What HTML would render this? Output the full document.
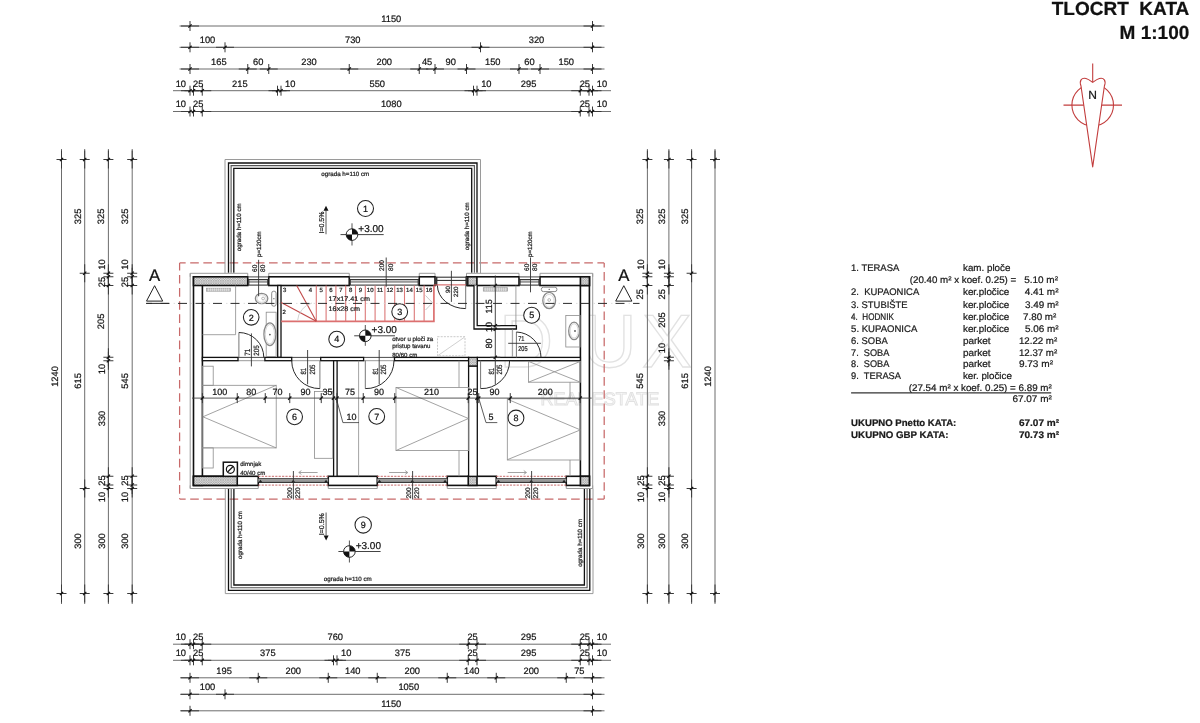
<!DOCTYPE html>
<html><head><meta charset="utf-8"><title>Tlocrt kata</title>
<style>
html,body{margin:0;padding:0;background:#fff;}
body{width:1200px;height:723px;overflow:hidden;}
svg{display:block;font-family:"Liberation Sans",sans-serif;will-change:transform;}
</style></head><body>
<svg width="1200" height="723" viewBox="0 0 1200 723" text-rendering="geometricPrecision">
<defs>
<pattern id="hatch" width="2.4" height="2.4" patternUnits="userSpaceOnUse">
<rect width="2.4" height="2.4" fill="#dedede"/>
<path d="M0,0 L2.4,2.4 M2.4,0 L0,2.4" stroke="#9a9a9a" stroke-width="0.55"/>
</pattern>
</defs>
<rect width="1200" height="723" fill="#fff"/>
<text x="499.0" y="367.3" font-size="75" fill="none" stroke="#e2e2e2" stroke-width="1.3">D</text>
<text x="582.5" y="367.3" font-size="75" fill="none" stroke="#e2e2e2" stroke-width="1.3">U</text>
<text x="642.0" y="367.3" font-size="75" fill="none" stroke="#e2e2e2" stroke-width="1.3">X</text>
<text x="540.5" y="404.8" font-size="18" fill="none" stroke="#e2e2e2" stroke-width="1">REAL ESTATE</text>
<line x1="179.5" y1="26" x2="604.5" y2="26" stroke="#6d6d6d" stroke-width="1" />
<line x1="181" y1="26" x2="199" y2="26" stroke="#3a3a3a" stroke-width="1" />
<line x1="583.5" y1="26" x2="601.5" y2="26" stroke="#3a3a3a" stroke-width="1" />
<line x1="190" y1="21" x2="190" y2="31" stroke="#3a3a3a" stroke-width="1.0" />
<line x1="188.4" y1="27.6" x2="191.6" y2="24.4" stroke="#111" stroke-width="1.3" />
<line x1="592.5" y1="21" x2="592.5" y2="31" stroke="#3a3a3a" stroke-width="1.0" />
<line x1="590.9" y1="27.6" x2="594.1" y2="24.4" stroke="#111" stroke-width="1.3" />
<text x="391.25" y="21.9" font-size="9.3" text-anchor="middle" fill="#151515" stroke="#151515" stroke-width="0.22" >1150</text>
<line x1="179.5" y1="47.3" x2="604.5" y2="47.3" stroke="#6d6d6d" stroke-width="1" />
<line x1="181" y1="47.3" x2="199" y2="47.3" stroke="#3a3a3a" stroke-width="1" />
<line x1="216" y1="47.3" x2="234" y2="47.3" stroke="#3a3a3a" stroke-width="1" />
<line x1="471.5" y1="47.3" x2="489.5" y2="47.3" stroke="#3a3a3a" stroke-width="1" />
<line x1="583.5" y1="47.3" x2="601.5" y2="47.3" stroke="#3a3a3a" stroke-width="1" />
<line x1="190" y1="42.3" x2="190" y2="52.3" stroke="#3a3a3a" stroke-width="1.0" />
<line x1="188.4" y1="48.9" x2="191.6" y2="45.7" stroke="#111" stroke-width="1.3" />
<line x1="225" y1="42.3" x2="225" y2="52.3" stroke="#3a3a3a" stroke-width="1.0" />
<line x1="223.4" y1="48.9" x2="226.6" y2="45.7" stroke="#111" stroke-width="1.3" />
<line x1="480.5" y1="42.3" x2="480.5" y2="52.3" stroke="#3a3a3a" stroke-width="1.0" />
<line x1="478.9" y1="48.9" x2="482.1" y2="45.7" stroke="#111" stroke-width="1.3" />
<line x1="592.5" y1="42.3" x2="592.5" y2="52.3" stroke="#3a3a3a" stroke-width="1.0" />
<line x1="590.9" y1="48.9" x2="594.1" y2="45.7" stroke="#111" stroke-width="1.3" />
<text x="207.5" y="43.2" font-size="9.3" text-anchor="middle" fill="#151515" stroke="#151515" stroke-width="0.22" >100</text>
<text x="352.75" y="43.2" font-size="9.3" text-anchor="middle" fill="#151515" stroke="#151515" stroke-width="0.22" >730</text>
<text x="536.5" y="43.2" font-size="9.3" text-anchor="middle" fill="#151515" stroke="#151515" stroke-width="0.22" >320</text>
<line x1="179.5" y1="69" x2="604.5" y2="69" stroke="#6d6d6d" stroke-width="1" />
<line x1="181" y1="69" x2="199" y2="69" stroke="#3a3a3a" stroke-width="1" />
<line x1="238.75" y1="69" x2="256.75" y2="69" stroke="#3a3a3a" stroke-width="1" />
<line x1="259.75" y1="69" x2="277.75" y2="69" stroke="#3a3a3a" stroke-width="1" />
<line x1="340.25" y1="69" x2="358.25" y2="69" stroke="#3a3a3a" stroke-width="1" />
<line x1="410.25" y1="69" x2="428.25" y2="69" stroke="#3a3a3a" stroke-width="1" />
<line x1="426" y1="69" x2="444" y2="69" stroke="#3a3a3a" stroke-width="1" />
<line x1="457.5" y1="69" x2="475.5" y2="69" stroke="#3a3a3a" stroke-width="1" />
<line x1="510" y1="69" x2="528" y2="69" stroke="#3a3a3a" stroke-width="1" />
<line x1="531" y1="69" x2="549" y2="69" stroke="#3a3a3a" stroke-width="1" />
<line x1="583.5" y1="69" x2="601.5" y2="69" stroke="#3a3a3a" stroke-width="1" />
<line x1="190" y1="64" x2="190" y2="74" stroke="#3a3a3a" stroke-width="1.0" />
<line x1="188.4" y1="70.6" x2="191.6" y2="67.4" stroke="#111" stroke-width="1.3" />
<line x1="247.75" y1="64" x2="247.75" y2="74" stroke="#3a3a3a" stroke-width="1.0" />
<line x1="246.15" y1="70.6" x2="249.35" y2="67.4" stroke="#111" stroke-width="1.3" />
<line x1="268.75" y1="64" x2="268.75" y2="74" stroke="#3a3a3a" stroke-width="1.0" />
<line x1="267.15" y1="70.6" x2="270.35" y2="67.4" stroke="#111" stroke-width="1.3" />
<line x1="349.25" y1="64" x2="349.25" y2="74" stroke="#3a3a3a" stroke-width="1.0" />
<line x1="347.65" y1="70.6" x2="350.85" y2="67.4" stroke="#111" stroke-width="1.3" />
<line x1="419.25" y1="64" x2="419.25" y2="74" stroke="#3a3a3a" stroke-width="1.0" />
<line x1="417.65" y1="70.6" x2="420.85" y2="67.4" stroke="#111" stroke-width="1.3" />
<line x1="435" y1="64" x2="435" y2="74" stroke="#3a3a3a" stroke-width="1.0" />
<line x1="433.4" y1="70.6" x2="436.6" y2="67.4" stroke="#111" stroke-width="1.3" />
<line x1="466.5" y1="64" x2="466.5" y2="74" stroke="#3a3a3a" stroke-width="1.0" />
<line x1="464.9" y1="70.6" x2="468.1" y2="67.4" stroke="#111" stroke-width="1.3" />
<line x1="519" y1="64" x2="519" y2="74" stroke="#3a3a3a" stroke-width="1.0" />
<line x1="517.4" y1="70.6" x2="520.6" y2="67.4" stroke="#111" stroke-width="1.3" />
<line x1="540" y1="64" x2="540" y2="74" stroke="#3a3a3a" stroke-width="1.0" />
<line x1="538.4" y1="70.6" x2="541.6" y2="67.4" stroke="#111" stroke-width="1.3" />
<line x1="592.5" y1="64" x2="592.5" y2="74" stroke="#3a3a3a" stroke-width="1.0" />
<line x1="590.9" y1="70.6" x2="594.1" y2="67.4" stroke="#111" stroke-width="1.3" />
<text x="218.88" y="64.9" font-size="9.3" text-anchor="middle" fill="#151515" stroke="#151515" stroke-width="0.22" >165</text>
<text x="258.25" y="64.9" font-size="9.3" text-anchor="middle" fill="#151515" stroke="#151515" stroke-width="0.22" >60</text>
<text x="309" y="64.9" font-size="9.3" text-anchor="middle" fill="#151515" stroke="#151515" stroke-width="0.22" >230</text>
<text x="384.25" y="64.9" font-size="9.3" text-anchor="middle" fill="#151515" stroke="#151515" stroke-width="0.22" >200</text>
<text x="427.12" y="64.9" font-size="9.3" text-anchor="middle" fill="#151515" stroke="#151515" stroke-width="0.22" >45</text>
<text x="450.75" y="64.9" font-size="9.3" text-anchor="middle" fill="#151515" stroke="#151515" stroke-width="0.22" >90</text>
<text x="492.75" y="64.9" font-size="9.3" text-anchor="middle" fill="#151515" stroke="#151515" stroke-width="0.22" >150</text>
<text x="529.5" y="64.9" font-size="9.3" text-anchor="middle" fill="#151515" stroke="#151515" stroke-width="0.22" >60</text>
<text x="566.25" y="64.9" font-size="9.3" text-anchor="middle" fill="#151515" stroke="#151515" stroke-width="0.22" >150</text>
<line x1="173" y1="90.7" x2="611" y2="90.7" stroke="#6d6d6d" stroke-width="1" />
<line x1="181" y1="90.7" x2="199" y2="90.7" stroke="#3a3a3a" stroke-width="1" />
<line x1="184.5" y1="90.7" x2="202.5" y2="90.7" stroke="#3a3a3a" stroke-width="1" />
<line x1="193.25" y1="90.7" x2="211.25" y2="90.7" stroke="#3a3a3a" stroke-width="1" />
<line x1="268.5" y1="90.7" x2="286.5" y2="90.7" stroke="#3a3a3a" stroke-width="1" />
<line x1="272" y1="90.7" x2="290" y2="90.7" stroke="#3a3a3a" stroke-width="1" />
<line x1="464.5" y1="90.7" x2="482.5" y2="90.7" stroke="#3a3a3a" stroke-width="1" />
<line x1="468" y1="90.7" x2="486" y2="90.7" stroke="#3a3a3a" stroke-width="1" />
<line x1="571.25" y1="90.7" x2="589.25" y2="90.7" stroke="#3a3a3a" stroke-width="1" />
<line x1="580" y1="90.7" x2="598" y2="90.7" stroke="#3a3a3a" stroke-width="1" />
<line x1="583.5" y1="90.7" x2="601.5" y2="90.7" stroke="#3a3a3a" stroke-width="1" />
<line x1="190" y1="85.7" x2="190" y2="95.7" stroke="#3a3a3a" stroke-width="1.0" />
<line x1="188.4" y1="92.3" x2="191.6" y2="89.1" stroke="#111" stroke-width="1.3" />
<line x1="193.5" y1="85.7" x2="193.5" y2="95.7" stroke="#3a3a3a" stroke-width="1.0" />
<line x1="191.9" y1="92.3" x2="195.1" y2="89.1" stroke="#111" stroke-width="1.3" />
<line x1="202.25" y1="85.7" x2="202.25" y2="95.7" stroke="#3a3a3a" stroke-width="1.0" />
<line x1="200.65" y1="92.3" x2="203.85" y2="89.1" stroke="#111" stroke-width="1.3" />
<line x1="277.5" y1="85.7" x2="277.5" y2="95.7" stroke="#3a3a3a" stroke-width="1.0" />
<line x1="275.9" y1="92.3" x2="279.1" y2="89.1" stroke="#111" stroke-width="1.3" />
<line x1="281" y1="85.7" x2="281" y2="95.7" stroke="#3a3a3a" stroke-width="1.0" />
<line x1="279.4" y1="92.3" x2="282.6" y2="89.1" stroke="#111" stroke-width="1.3" />
<line x1="473.5" y1="85.7" x2="473.5" y2="95.7" stroke="#3a3a3a" stroke-width="1.0" />
<line x1="471.9" y1="92.3" x2="475.1" y2="89.1" stroke="#111" stroke-width="1.3" />
<line x1="477" y1="85.7" x2="477" y2="95.7" stroke="#3a3a3a" stroke-width="1.0" />
<line x1="475.4" y1="92.3" x2="478.6" y2="89.1" stroke="#111" stroke-width="1.3" />
<line x1="580.25" y1="85.7" x2="580.25" y2="95.7" stroke="#3a3a3a" stroke-width="1.0" />
<line x1="578.65" y1="92.3" x2="581.85" y2="89.1" stroke="#111" stroke-width="1.3" />
<line x1="589" y1="85.7" x2="589" y2="95.7" stroke="#3a3a3a" stroke-width="1.0" />
<line x1="587.4" y1="92.3" x2="590.6" y2="89.1" stroke="#111" stroke-width="1.3" />
<line x1="592.5" y1="85.7" x2="592.5" y2="95.7" stroke="#3a3a3a" stroke-width="1.0" />
<line x1="590.9" y1="92.3" x2="594.1" y2="89.1" stroke="#111" stroke-width="1.3" />
<text x="180.8" y="86.6" font-size="9.3" text-anchor="middle" fill="#151515" stroke="#151515" stroke-width="0.22" >10</text>
<text x="198.2" y="86.6" font-size="9.3" text-anchor="middle" fill="#151515" stroke="#151515" stroke-width="0.22" >25</text>
<text x="239.88" y="86.6" font-size="9.3" text-anchor="middle" fill="#151515" stroke="#151515" stroke-width="0.22" >215</text>
<text x="290.2" y="86.6" font-size="9.3" text-anchor="middle" fill="#151515" stroke="#151515" stroke-width="0.22" >10</text>
<text x="377.25" y="86.6" font-size="9.3" text-anchor="middle" fill="#151515" stroke="#151515" stroke-width="0.22" >550</text>
<text x="486.3" y="86.6" font-size="9.3" text-anchor="middle" fill="#151515" stroke="#151515" stroke-width="0.22" >10</text>
<text x="528.62" y="86.6" font-size="9.3" text-anchor="middle" fill="#151515" stroke="#151515" stroke-width="0.22" >295</text>
<text x="584.8" y="86.6" font-size="9.3" text-anchor="middle" fill="#151515" stroke="#151515" stroke-width="0.22" >25</text>
<text x="602" y="86.6" font-size="9.3" text-anchor="middle" fill="#151515" stroke="#151515" stroke-width="0.22" >10</text>
<line x1="173" y1="111.5" x2="611" y2="111.5" stroke="#6d6d6d" stroke-width="1" />
<line x1="181" y1="111.5" x2="199" y2="111.5" stroke="#3a3a3a" stroke-width="1" />
<line x1="184.5" y1="111.5" x2="202.5" y2="111.5" stroke="#3a3a3a" stroke-width="1" />
<line x1="193.25" y1="111.5" x2="211.25" y2="111.5" stroke="#3a3a3a" stroke-width="1" />
<line x1="571.25" y1="111.5" x2="589.25" y2="111.5" stroke="#3a3a3a" stroke-width="1" />
<line x1="580" y1="111.5" x2="598" y2="111.5" stroke="#3a3a3a" stroke-width="1" />
<line x1="583.5" y1="111.5" x2="601.5" y2="111.5" stroke="#3a3a3a" stroke-width="1" />
<line x1="190" y1="106.5" x2="190" y2="116.5" stroke="#3a3a3a" stroke-width="1.0" />
<line x1="188.4" y1="113.1" x2="191.6" y2="109.9" stroke="#111" stroke-width="1.3" />
<line x1="193.5" y1="106.5" x2="193.5" y2="116.5" stroke="#3a3a3a" stroke-width="1.0" />
<line x1="191.9" y1="113.1" x2="195.1" y2="109.9" stroke="#111" stroke-width="1.3" />
<line x1="202.25" y1="106.5" x2="202.25" y2="116.5" stroke="#3a3a3a" stroke-width="1.0" />
<line x1="200.65" y1="113.1" x2="203.85" y2="109.9" stroke="#111" stroke-width="1.3" />
<line x1="580.25" y1="106.5" x2="580.25" y2="116.5" stroke="#3a3a3a" stroke-width="1.0" />
<line x1="578.65" y1="113.1" x2="581.85" y2="109.9" stroke="#111" stroke-width="1.3" />
<line x1="589" y1="106.5" x2="589" y2="116.5" stroke="#3a3a3a" stroke-width="1.0" />
<line x1="587.4" y1="113.1" x2="590.6" y2="109.9" stroke="#111" stroke-width="1.3" />
<line x1="592.5" y1="106.5" x2="592.5" y2="116.5" stroke="#3a3a3a" stroke-width="1.0" />
<line x1="590.9" y1="113.1" x2="594.1" y2="109.9" stroke="#111" stroke-width="1.3" />
<text x="180.8" y="107.4" font-size="9.3" text-anchor="middle" fill="#151515" stroke="#151515" stroke-width="0.22" >10</text>
<text x="198.2" y="107.4" font-size="9.3" text-anchor="middle" fill="#151515" stroke="#151515" stroke-width="0.22" >25</text>
<text x="391.25" y="107.4" font-size="9.3" text-anchor="middle" fill="#151515" stroke="#151515" stroke-width="0.22" >1080</text>
<text x="584.8" y="107.4" font-size="9.3" text-anchor="middle" fill="#151515" stroke="#151515" stroke-width="0.22" >25</text>
<text x="602" y="107.4" font-size="9.3" text-anchor="middle" fill="#151515" stroke="#151515" stroke-width="0.22" >10</text>
<line x1="173" y1="644.2" x2="611" y2="644.2" stroke="#6d6d6d" stroke-width="1" />
<line x1="181" y1="644.2" x2="199" y2="644.2" stroke="#3a3a3a" stroke-width="1" />
<line x1="184.5" y1="644.2" x2="202.5" y2="644.2" stroke="#3a3a3a" stroke-width="1" />
<line x1="193.25" y1="644.2" x2="211.25" y2="644.2" stroke="#3a3a3a" stroke-width="1" />
<line x1="459.25" y1="644.2" x2="477.25" y2="644.2" stroke="#3a3a3a" stroke-width="1" />
<line x1="468" y1="644.2" x2="486" y2="644.2" stroke="#3a3a3a" stroke-width="1" />
<line x1="571.25" y1="644.2" x2="589.25" y2="644.2" stroke="#3a3a3a" stroke-width="1" />
<line x1="580" y1="644.2" x2="598" y2="644.2" stroke="#3a3a3a" stroke-width="1" />
<line x1="583.5" y1="644.2" x2="601.5" y2="644.2" stroke="#3a3a3a" stroke-width="1" />
<line x1="190" y1="639.2" x2="190" y2="649.2" stroke="#3a3a3a" stroke-width="1.0" />
<line x1="188.4" y1="645.8" x2="191.6" y2="642.6" stroke="#111" stroke-width="1.3" />
<line x1="193.5" y1="639.2" x2="193.5" y2="649.2" stroke="#3a3a3a" stroke-width="1.0" />
<line x1="191.9" y1="645.8" x2="195.1" y2="642.6" stroke="#111" stroke-width="1.3" />
<line x1="202.25" y1="639.2" x2="202.25" y2="649.2" stroke="#3a3a3a" stroke-width="1.0" />
<line x1="200.65" y1="645.8" x2="203.85" y2="642.6" stroke="#111" stroke-width="1.3" />
<line x1="468.25" y1="639.2" x2="468.25" y2="649.2" stroke="#3a3a3a" stroke-width="1.0" />
<line x1="466.65" y1="645.8" x2="469.85" y2="642.6" stroke="#111" stroke-width="1.3" />
<line x1="477" y1="639.2" x2="477" y2="649.2" stroke="#3a3a3a" stroke-width="1.0" />
<line x1="475.4" y1="645.8" x2="478.6" y2="642.6" stroke="#111" stroke-width="1.3" />
<line x1="580.25" y1="639.2" x2="580.25" y2="649.2" stroke="#3a3a3a" stroke-width="1.0" />
<line x1="578.65" y1="645.8" x2="581.85" y2="642.6" stroke="#111" stroke-width="1.3" />
<line x1="589" y1="639.2" x2="589" y2="649.2" stroke="#3a3a3a" stroke-width="1.0" />
<line x1="587.4" y1="645.8" x2="590.6" y2="642.6" stroke="#111" stroke-width="1.3" />
<line x1="592.5" y1="639.2" x2="592.5" y2="649.2" stroke="#3a3a3a" stroke-width="1.0" />
<line x1="590.9" y1="645.8" x2="594.1" y2="642.6" stroke="#111" stroke-width="1.3" />
<text x="180.8" y="640.1" font-size="9.3" text-anchor="middle" fill="#151515" stroke="#151515" stroke-width="0.22" >10</text>
<text x="198.2" y="640.1" font-size="9.3" text-anchor="middle" fill="#151515" stroke="#151515" stroke-width="0.22" >25</text>
<text x="335.25" y="640.1" font-size="9.3" text-anchor="middle" fill="#151515" stroke="#151515" stroke-width="0.22" >760</text>
<text x="472.62" y="640.1" font-size="9.3" text-anchor="middle" fill="#151515" stroke="#151515" stroke-width="0.22" >25</text>
<text x="528.62" y="640.1" font-size="9.3" text-anchor="middle" fill="#151515" stroke="#151515" stroke-width="0.22" >295</text>
<text x="584.8" y="640.1" font-size="9.3" text-anchor="middle" fill="#151515" stroke="#151515" stroke-width="0.22" >25</text>
<text x="602" y="640.1" font-size="9.3" text-anchor="middle" fill="#151515" stroke="#151515" stroke-width="0.22" >10</text>
<line x1="173" y1="660.3" x2="611" y2="660.3" stroke="#6d6d6d" stroke-width="1" />
<line x1="181" y1="660.3" x2="199" y2="660.3" stroke="#3a3a3a" stroke-width="1" />
<line x1="184.5" y1="660.3" x2="202.5" y2="660.3" stroke="#3a3a3a" stroke-width="1" />
<line x1="193.25" y1="660.3" x2="211.25" y2="660.3" stroke="#3a3a3a" stroke-width="1" />
<line x1="324.5" y1="660.3" x2="342.5" y2="660.3" stroke="#3a3a3a" stroke-width="1" />
<line x1="328" y1="660.3" x2="346" y2="660.3" stroke="#3a3a3a" stroke-width="1" />
<line x1="459.25" y1="660.3" x2="477.25" y2="660.3" stroke="#3a3a3a" stroke-width="1" />
<line x1="468" y1="660.3" x2="486" y2="660.3" stroke="#3a3a3a" stroke-width="1" />
<line x1="571.25" y1="660.3" x2="589.25" y2="660.3" stroke="#3a3a3a" stroke-width="1" />
<line x1="580" y1="660.3" x2="598" y2="660.3" stroke="#3a3a3a" stroke-width="1" />
<line x1="583.5" y1="660.3" x2="601.5" y2="660.3" stroke="#3a3a3a" stroke-width="1" />
<line x1="190" y1="655.3" x2="190" y2="665.3" stroke="#3a3a3a" stroke-width="1.0" />
<line x1="188.4" y1="661.9" x2="191.6" y2="658.7" stroke="#111" stroke-width="1.3" />
<line x1="193.5" y1="655.3" x2="193.5" y2="665.3" stroke="#3a3a3a" stroke-width="1.0" />
<line x1="191.9" y1="661.9" x2="195.1" y2="658.7" stroke="#111" stroke-width="1.3" />
<line x1="202.25" y1="655.3" x2="202.25" y2="665.3" stroke="#3a3a3a" stroke-width="1.0" />
<line x1="200.65" y1="661.9" x2="203.85" y2="658.7" stroke="#111" stroke-width="1.3" />
<line x1="333.5" y1="655.3" x2="333.5" y2="665.3" stroke="#3a3a3a" stroke-width="1.0" />
<line x1="331.9" y1="661.9" x2="335.1" y2="658.7" stroke="#111" stroke-width="1.3" />
<line x1="337" y1="655.3" x2="337" y2="665.3" stroke="#3a3a3a" stroke-width="1.0" />
<line x1="335.4" y1="661.9" x2="338.6" y2="658.7" stroke="#111" stroke-width="1.3" />
<line x1="468.25" y1="655.3" x2="468.25" y2="665.3" stroke="#3a3a3a" stroke-width="1.0" />
<line x1="466.65" y1="661.9" x2="469.85" y2="658.7" stroke="#111" stroke-width="1.3" />
<line x1="477" y1="655.3" x2="477" y2="665.3" stroke="#3a3a3a" stroke-width="1.0" />
<line x1="475.4" y1="661.9" x2="478.6" y2="658.7" stroke="#111" stroke-width="1.3" />
<line x1="580.25" y1="655.3" x2="580.25" y2="665.3" stroke="#3a3a3a" stroke-width="1.0" />
<line x1="578.65" y1="661.9" x2="581.85" y2="658.7" stroke="#111" stroke-width="1.3" />
<line x1="589" y1="655.3" x2="589" y2="665.3" stroke="#3a3a3a" stroke-width="1.0" />
<line x1="587.4" y1="661.9" x2="590.6" y2="658.7" stroke="#111" stroke-width="1.3" />
<line x1="592.5" y1="655.3" x2="592.5" y2="665.3" stroke="#3a3a3a" stroke-width="1.0" />
<line x1="590.9" y1="661.9" x2="594.1" y2="658.7" stroke="#111" stroke-width="1.3" />
<text x="180.8" y="656.2" font-size="9.3" text-anchor="middle" fill="#151515" stroke="#151515" stroke-width="0.22" >10</text>
<text x="198.2" y="656.2" font-size="9.3" text-anchor="middle" fill="#151515" stroke="#151515" stroke-width="0.22" >25</text>
<text x="267.88" y="656.2" font-size="9.3" text-anchor="middle" fill="#151515" stroke="#151515" stroke-width="0.22" >375</text>
<text x="346.2" y="656.2" font-size="9.3" text-anchor="middle" fill="#151515" stroke="#151515" stroke-width="0.22" >10</text>
<text x="402.62" y="656.2" font-size="9.3" text-anchor="middle" fill="#151515" stroke="#151515" stroke-width="0.22" >375</text>
<text x="472.62" y="656.2" font-size="9.3" text-anchor="middle" fill="#151515" stroke="#151515" stroke-width="0.22" >25</text>
<text x="528.62" y="656.2" font-size="9.3" text-anchor="middle" fill="#151515" stroke="#151515" stroke-width="0.22" >295</text>
<text x="584.8" y="656.2" font-size="9.3" text-anchor="middle" fill="#151515" stroke="#151515" stroke-width="0.22" >25</text>
<text x="602" y="656.2" font-size="9.3" text-anchor="middle" fill="#151515" stroke="#151515" stroke-width="0.22" >10</text>
<line x1="180" y1="677.8" x2="604.5" y2="677.8" stroke="#6d6d6d" stroke-width="1" />
<line x1="181" y1="677.8" x2="199" y2="677.8" stroke="#3a3a3a" stroke-width="1" />
<line x1="249.25" y1="677.8" x2="267.25" y2="677.8" stroke="#3a3a3a" stroke-width="1" />
<line x1="319.25" y1="677.8" x2="337.25" y2="677.8" stroke="#3a3a3a" stroke-width="1" />
<line x1="368.25" y1="677.8" x2="386.25" y2="677.8" stroke="#3a3a3a" stroke-width="1" />
<line x1="438.25" y1="677.8" x2="456.25" y2="677.8" stroke="#3a3a3a" stroke-width="1" />
<line x1="487.25" y1="677.8" x2="505.25" y2="677.8" stroke="#3a3a3a" stroke-width="1" />
<line x1="557.25" y1="677.8" x2="575.25" y2="677.8" stroke="#3a3a3a" stroke-width="1" />
<line x1="583.5" y1="677.8" x2="601.5" y2="677.8" stroke="#3a3a3a" stroke-width="1" />
<line x1="190" y1="672.8" x2="190" y2="682.8" stroke="#3a3a3a" stroke-width="1.0" />
<line x1="188.4" y1="679.4" x2="191.6" y2="676.2" stroke="#111" stroke-width="1.3" />
<line x1="258.25" y1="672.8" x2="258.25" y2="682.8" stroke="#3a3a3a" stroke-width="1.0" />
<line x1="256.65" y1="679.4" x2="259.85" y2="676.2" stroke="#111" stroke-width="1.3" />
<line x1="328.25" y1="672.8" x2="328.25" y2="682.8" stroke="#3a3a3a" stroke-width="1.0" />
<line x1="326.65" y1="679.4" x2="329.85" y2="676.2" stroke="#111" stroke-width="1.3" />
<line x1="377.25" y1="672.8" x2="377.25" y2="682.8" stroke="#3a3a3a" stroke-width="1.0" />
<line x1="375.65" y1="679.4" x2="378.85" y2="676.2" stroke="#111" stroke-width="1.3" />
<line x1="447.25" y1="672.8" x2="447.25" y2="682.8" stroke="#3a3a3a" stroke-width="1.0" />
<line x1="445.65" y1="679.4" x2="448.85" y2="676.2" stroke="#111" stroke-width="1.3" />
<line x1="496.25" y1="672.8" x2="496.25" y2="682.8" stroke="#3a3a3a" stroke-width="1.0" />
<line x1="494.65" y1="679.4" x2="497.85" y2="676.2" stroke="#111" stroke-width="1.3" />
<line x1="566.25" y1="672.8" x2="566.25" y2="682.8" stroke="#3a3a3a" stroke-width="1.0" />
<line x1="564.65" y1="679.4" x2="567.85" y2="676.2" stroke="#111" stroke-width="1.3" />
<line x1="592.5" y1="672.8" x2="592.5" y2="682.8" stroke="#3a3a3a" stroke-width="1.0" />
<line x1="590.9" y1="679.4" x2="594.1" y2="676.2" stroke="#111" stroke-width="1.3" />
<text x="224.12" y="673.7" font-size="9.3" text-anchor="middle" fill="#151515" stroke="#151515" stroke-width="0.22" >195</text>
<text x="293.25" y="673.7" font-size="9.3" text-anchor="middle" fill="#151515" stroke="#151515" stroke-width="0.22" >200</text>
<text x="352.75" y="673.7" font-size="9.3" text-anchor="middle" fill="#151515" stroke="#151515" stroke-width="0.22" >140</text>
<text x="412.25" y="673.7" font-size="9.3" text-anchor="middle" fill="#151515" stroke="#151515" stroke-width="0.22" >200</text>
<text x="471.75" y="673.7" font-size="9.3" text-anchor="middle" fill="#151515" stroke="#151515" stroke-width="0.22" >140</text>
<text x="531.25" y="673.7" font-size="9.3" text-anchor="middle" fill="#151515" stroke="#151515" stroke-width="0.22" >200</text>
<text x="579.38" y="673.7" font-size="9.3" text-anchor="middle" fill="#151515" stroke="#151515" stroke-width="0.22" >75</text>
<line x1="180" y1="694.3" x2="604.5" y2="694.3" stroke="#6d6d6d" stroke-width="1" />
<line x1="181" y1="694.3" x2="199" y2="694.3" stroke="#3a3a3a" stroke-width="1" />
<line x1="216" y1="694.3" x2="234" y2="694.3" stroke="#3a3a3a" stroke-width="1" />
<line x1="583.5" y1="694.3" x2="601.5" y2="694.3" stroke="#3a3a3a" stroke-width="1" />
<line x1="190" y1="689.3" x2="190" y2="699.3" stroke="#3a3a3a" stroke-width="1.0" />
<line x1="188.4" y1="695.9" x2="191.6" y2="692.7" stroke="#111" stroke-width="1.3" />
<line x1="225" y1="689.3" x2="225" y2="699.3" stroke="#3a3a3a" stroke-width="1.0" />
<line x1="223.4" y1="695.9" x2="226.6" y2="692.7" stroke="#111" stroke-width="1.3" />
<line x1="592.5" y1="689.3" x2="592.5" y2="699.3" stroke="#3a3a3a" stroke-width="1.0" />
<line x1="590.9" y1="695.9" x2="594.1" y2="692.7" stroke="#111" stroke-width="1.3" />
<text x="207.5" y="690.2" font-size="9.3" text-anchor="middle" fill="#151515" stroke="#151515" stroke-width="0.22" >100</text>
<text x="408.75" y="690.2" font-size="9.3" text-anchor="middle" fill="#151515" stroke="#151515" stroke-width="0.22" >1050</text>
<line x1="180" y1="710.8" x2="604.5" y2="710.8" stroke="#6d6d6d" stroke-width="1" />
<line x1="181" y1="710.8" x2="199" y2="710.8" stroke="#3a3a3a" stroke-width="1" />
<line x1="583.5" y1="710.8" x2="601.5" y2="710.8" stroke="#3a3a3a" stroke-width="1" />
<line x1="190" y1="705.8" x2="190" y2="715.8" stroke="#3a3a3a" stroke-width="1.0" />
<line x1="188.4" y1="712.4" x2="191.6" y2="709.2" stroke="#111" stroke-width="1.3" />
<line x1="592.5" y1="705.8" x2="592.5" y2="715.8" stroke="#3a3a3a" stroke-width="1.0" />
<line x1="590.9" y1="712.4" x2="594.1" y2="709.2" stroke="#111" stroke-width="1.3" />
<text x="391.25" y="706.7" font-size="9.3" text-anchor="middle" fill="#151515" stroke="#151515" stroke-width="0.22" >1150</text>
<line x1="61.5" y1="149" x2="61.5" y2="604" stroke="#6d6d6d" stroke-width="1" />
<line x1="61.5" y1="150.5" x2="61.5" y2="168.5" stroke="#3a3a3a" stroke-width="1" />
<line x1="61.5" y1="584.5" x2="61.5" y2="602.5" stroke="#3a3a3a" stroke-width="1" />
<line x1="56.5" y1="159.5" x2="66.5" y2="159.5" stroke="#3a3a3a" stroke-width="1.0" />
<line x1="59.9" y1="161.1" x2="63.1" y2="157.9" stroke="#111" stroke-width="1.3" />
<line x1="56.5" y1="593.5" x2="66.5" y2="593.5" stroke="#3a3a3a" stroke-width="1.0" />
<line x1="59.9" y1="595.1" x2="63.1" y2="591.9" stroke="#111" stroke-width="1.3" />
<text x="57.6" y="376.5" font-size="9.3" text-anchor="middle" fill="#151515" stroke="#151515" stroke-width="0.22" transform="rotate(-90 57.6 376.5)" >1240</text>
<line x1="84.7" y1="149" x2="84.7" y2="604" stroke="#6d6d6d" stroke-width="1" />
<line x1="84.7" y1="150.5" x2="84.7" y2="168.5" stroke="#3a3a3a" stroke-width="1" />
<line x1="84.7" y1="264.25" x2="84.7" y2="282.25" stroke="#3a3a3a" stroke-width="1" />
<line x1="84.7" y1="479.5" x2="84.7" y2="497.5" stroke="#3a3a3a" stroke-width="1" />
<line x1="84.7" y1="584.5" x2="84.7" y2="602.5" stroke="#3a3a3a" stroke-width="1" />
<line x1="79.7" y1="159.5" x2="89.7" y2="159.5" stroke="#3a3a3a" stroke-width="1.0" />
<line x1="83.1" y1="161.1" x2="86.3" y2="157.9" stroke="#111" stroke-width="1.3" />
<line x1="79.7" y1="273.25" x2="89.7" y2="273.25" stroke="#3a3a3a" stroke-width="1.0" />
<line x1="83.1" y1="274.85" x2="86.3" y2="271.65" stroke="#111" stroke-width="1.3" />
<line x1="79.7" y1="488.5" x2="89.7" y2="488.5" stroke="#3a3a3a" stroke-width="1.0" />
<line x1="83.1" y1="490.1" x2="86.3" y2="486.9" stroke="#111" stroke-width="1.3" />
<line x1="79.7" y1="593.5" x2="89.7" y2="593.5" stroke="#3a3a3a" stroke-width="1.0" />
<line x1="83.1" y1="595.1" x2="86.3" y2="591.9" stroke="#111" stroke-width="1.3" />
<text x="80.8" y="216.38" font-size="9.3" text-anchor="middle" fill="#151515" stroke="#151515" stroke-width="0.22" transform="rotate(-90 80.8 216.38)" >325</text>
<text x="80.8" y="380.88" font-size="9.3" text-anchor="middle" fill="#151515" stroke="#151515" stroke-width="0.22" transform="rotate(-90 80.8 380.88)" >615</text>
<text x="80.8" y="541" font-size="9.3" text-anchor="middle" fill="#151515" stroke="#151515" stroke-width="0.22" transform="rotate(-90 80.8 541)" >300</text>
<line x1="108.4" y1="149" x2="108.4" y2="604" stroke="#6d6d6d" stroke-width="1" />
<line x1="108.4" y1="150.5" x2="108.4" y2="168.5" stroke="#3a3a3a" stroke-width="1" />
<line x1="108.4" y1="264.25" x2="108.4" y2="282.25" stroke="#3a3a3a" stroke-width="1" />
<line x1="108.4" y1="267.75" x2="108.4" y2="285.75" stroke="#3a3a3a" stroke-width="1" />
<line x1="108.4" y1="276.5" x2="108.4" y2="294.5" stroke="#3a3a3a" stroke-width="1" />
<line x1="108.4" y1="348.25" x2="108.4" y2="366.25" stroke="#3a3a3a" stroke-width="1" />
<line x1="108.4" y1="351.75" x2="108.4" y2="369.75" stroke="#3a3a3a" stroke-width="1" />
<line x1="108.4" y1="467.25" x2="108.4" y2="485.25" stroke="#3a3a3a" stroke-width="1" />
<line x1="108.4" y1="476" x2="108.4" y2="494" stroke="#3a3a3a" stroke-width="1" />
<line x1="108.4" y1="479.5" x2="108.4" y2="497.5" stroke="#3a3a3a" stroke-width="1" />
<line x1="108.4" y1="584.5" x2="108.4" y2="602.5" stroke="#3a3a3a" stroke-width="1" />
<line x1="103.4" y1="159.5" x2="113.4" y2="159.5" stroke="#3a3a3a" stroke-width="1.0" />
<line x1="106.8" y1="161.1" x2="110" y2="157.9" stroke="#111" stroke-width="1.3" />
<line x1="103.4" y1="273.25" x2="113.4" y2="273.25" stroke="#3a3a3a" stroke-width="1.0" />
<line x1="106.8" y1="274.85" x2="110" y2="271.65" stroke="#111" stroke-width="1.3" />
<line x1="103.4" y1="276.75" x2="113.4" y2="276.75" stroke="#3a3a3a" stroke-width="1.0" />
<line x1="106.8" y1="278.35" x2="110" y2="275.15" stroke="#111" stroke-width="1.3" />
<line x1="103.4" y1="285.5" x2="113.4" y2="285.5" stroke="#3a3a3a" stroke-width="1.0" />
<line x1="106.8" y1="287.1" x2="110" y2="283.9" stroke="#111" stroke-width="1.3" />
<line x1="103.4" y1="357.25" x2="113.4" y2="357.25" stroke="#3a3a3a" stroke-width="1.0" />
<line x1="106.8" y1="358.85" x2="110" y2="355.65" stroke="#111" stroke-width="1.3" />
<line x1="103.4" y1="360.75" x2="113.4" y2="360.75" stroke="#3a3a3a" stroke-width="1.0" />
<line x1="106.8" y1="362.35" x2="110" y2="359.15" stroke="#111" stroke-width="1.3" />
<line x1="103.4" y1="476.25" x2="113.4" y2="476.25" stroke="#3a3a3a" stroke-width="1.0" />
<line x1="106.8" y1="477.85" x2="110" y2="474.65" stroke="#111" stroke-width="1.3" />
<line x1="103.4" y1="485" x2="113.4" y2="485" stroke="#3a3a3a" stroke-width="1.0" />
<line x1="106.8" y1="486.6" x2="110" y2="483.4" stroke="#111" stroke-width="1.3" />
<line x1="103.4" y1="488.5" x2="113.4" y2="488.5" stroke="#3a3a3a" stroke-width="1.0" />
<line x1="106.8" y1="490.1" x2="110" y2="486.9" stroke="#111" stroke-width="1.3" />
<line x1="103.4" y1="593.5" x2="113.4" y2="593.5" stroke="#3a3a3a" stroke-width="1.0" />
<line x1="106.8" y1="595.1" x2="110" y2="591.9" stroke="#111" stroke-width="1.3" />
<text x="104.5" y="216.38" font-size="9.3" text-anchor="middle" fill="#151515" stroke="#151515" stroke-width="0.22" transform="rotate(-90 104.5 216.38)" >325</text>
<text x="104.5" y="264.5" font-size="9.3" text-anchor="middle" fill="#151515" stroke="#151515" stroke-width="0.22" transform="rotate(-90 104.5 264.5)" >10</text>
<text x="104.5" y="282" font-size="9.3" text-anchor="middle" fill="#151515" stroke="#151515" stroke-width="0.22" transform="rotate(-90 104.5 282)" >25</text>
<text x="104.5" y="321.38" font-size="9.3" text-anchor="middle" fill="#151515" stroke="#151515" stroke-width="0.22" transform="rotate(-90 104.5 321.38)" >205</text>
<text x="104.5" y="369" font-size="9.3" text-anchor="middle" fill="#151515" stroke="#151515" stroke-width="0.22" transform="rotate(-90 104.5 369)" >10</text>
<text x="104.5" y="418.5" font-size="9.3" text-anchor="middle" fill="#151515" stroke="#151515" stroke-width="0.22" transform="rotate(-90 104.5 418.5)" >330</text>
<text x="104.5" y="480.5" font-size="9.3" text-anchor="middle" fill="#151515" stroke="#151515" stroke-width="0.22" transform="rotate(-90 104.5 480.5)" >25</text>
<text x="104.5" y="497" font-size="9.3" text-anchor="middle" fill="#151515" stroke="#151515" stroke-width="0.22" transform="rotate(-90 104.5 497)" >10</text>
<text x="104.5" y="541" font-size="9.3" text-anchor="middle" fill="#151515" stroke="#151515" stroke-width="0.22" transform="rotate(-90 104.5 541)" >300</text>
<line x1="132.2" y1="149" x2="132.2" y2="604" stroke="#6d6d6d" stroke-width="1" />
<line x1="132.2" y1="150.5" x2="132.2" y2="168.5" stroke="#3a3a3a" stroke-width="1" />
<line x1="132.2" y1="264.25" x2="132.2" y2="282.25" stroke="#3a3a3a" stroke-width="1" />
<line x1="132.2" y1="267.75" x2="132.2" y2="285.75" stroke="#3a3a3a" stroke-width="1" />
<line x1="132.2" y1="276.5" x2="132.2" y2="294.5" stroke="#3a3a3a" stroke-width="1" />
<line x1="132.2" y1="467.25" x2="132.2" y2="485.25" stroke="#3a3a3a" stroke-width="1" />
<line x1="132.2" y1="476" x2="132.2" y2="494" stroke="#3a3a3a" stroke-width="1" />
<line x1="132.2" y1="479.5" x2="132.2" y2="497.5" stroke="#3a3a3a" stroke-width="1" />
<line x1="132.2" y1="584.5" x2="132.2" y2="602.5" stroke="#3a3a3a" stroke-width="1" />
<line x1="127.2" y1="159.5" x2="137.2" y2="159.5" stroke="#3a3a3a" stroke-width="1.0" />
<line x1="130.6" y1="161.1" x2="133.8" y2="157.9" stroke="#111" stroke-width="1.3" />
<line x1="127.2" y1="273.25" x2="137.2" y2="273.25" stroke="#3a3a3a" stroke-width="1.0" />
<line x1="130.6" y1="274.85" x2="133.8" y2="271.65" stroke="#111" stroke-width="1.3" />
<line x1="127.2" y1="276.75" x2="137.2" y2="276.75" stroke="#3a3a3a" stroke-width="1.0" />
<line x1="130.6" y1="278.35" x2="133.8" y2="275.15" stroke="#111" stroke-width="1.3" />
<line x1="127.2" y1="285.5" x2="137.2" y2="285.5" stroke="#3a3a3a" stroke-width="1.0" />
<line x1="130.6" y1="287.1" x2="133.8" y2="283.9" stroke="#111" stroke-width="1.3" />
<line x1="127.2" y1="476.25" x2="137.2" y2="476.25" stroke="#3a3a3a" stroke-width="1.0" />
<line x1="130.6" y1="477.85" x2="133.8" y2="474.65" stroke="#111" stroke-width="1.3" />
<line x1="127.2" y1="485" x2="137.2" y2="485" stroke="#3a3a3a" stroke-width="1.0" />
<line x1="130.6" y1="486.6" x2="133.8" y2="483.4" stroke="#111" stroke-width="1.3" />
<line x1="127.2" y1="488.5" x2="137.2" y2="488.5" stroke="#3a3a3a" stroke-width="1.0" />
<line x1="130.6" y1="490.1" x2="133.8" y2="486.9" stroke="#111" stroke-width="1.3" />
<line x1="127.2" y1="593.5" x2="137.2" y2="593.5" stroke="#3a3a3a" stroke-width="1.0" />
<line x1="130.6" y1="595.1" x2="133.8" y2="591.9" stroke="#111" stroke-width="1.3" />
<text x="128.3" y="216.38" font-size="9.3" text-anchor="middle" fill="#151515" stroke="#151515" stroke-width="0.22" transform="rotate(-90 128.3 216.38)" >325</text>
<text x="128.3" y="264.5" font-size="9.3" text-anchor="middle" fill="#151515" stroke="#151515" stroke-width="0.22" transform="rotate(-90 128.3 264.5)" >10</text>
<text x="128.3" y="282" font-size="9.3" text-anchor="middle" fill="#151515" stroke="#151515" stroke-width="0.22" transform="rotate(-90 128.3 282)" >25</text>
<text x="128.3" y="380.88" font-size="9.3" text-anchor="middle" fill="#151515" stroke="#151515" stroke-width="0.22" transform="rotate(-90 128.3 380.88)" >545</text>
<text x="128.3" y="480.5" font-size="9.3" text-anchor="middle" fill="#151515" stroke="#151515" stroke-width="0.22" transform="rotate(-90 128.3 480.5)" >25</text>
<text x="128.3" y="497" font-size="9.3" text-anchor="middle" fill="#151515" stroke="#151515" stroke-width="0.22" transform="rotate(-90 128.3 497)" >10</text>
<text x="128.3" y="541" font-size="9.3" text-anchor="middle" fill="#151515" stroke="#151515" stroke-width="0.22" transform="rotate(-90 128.3 541)" >300</text>
<line x1="647.4" y1="149" x2="647.4" y2="604" stroke="#6d6d6d" stroke-width="1" />
<line x1="647.4" y1="150.5" x2="647.4" y2="168.5" stroke="#3a3a3a" stroke-width="1" />
<line x1="647.4" y1="264.25" x2="647.4" y2="282.25" stroke="#3a3a3a" stroke-width="1" />
<line x1="647.4" y1="267.75" x2="647.4" y2="285.75" stroke="#3a3a3a" stroke-width="1" />
<line x1="647.4" y1="276.5" x2="647.4" y2="294.5" stroke="#3a3a3a" stroke-width="1" />
<line x1="647.4" y1="467.25" x2="647.4" y2="485.25" stroke="#3a3a3a" stroke-width="1" />
<line x1="647.4" y1="476" x2="647.4" y2="494" stroke="#3a3a3a" stroke-width="1" />
<line x1="647.4" y1="479.5" x2="647.4" y2="497.5" stroke="#3a3a3a" stroke-width="1" />
<line x1="647.4" y1="584.5" x2="647.4" y2="602.5" stroke="#3a3a3a" stroke-width="1" />
<line x1="642.4" y1="159.5" x2="652.4" y2="159.5" stroke="#3a3a3a" stroke-width="1.0" />
<line x1="645.8" y1="161.1" x2="649" y2="157.9" stroke="#111" stroke-width="1.3" />
<line x1="642.4" y1="273.25" x2="652.4" y2="273.25" stroke="#3a3a3a" stroke-width="1.0" />
<line x1="645.8" y1="274.85" x2="649" y2="271.65" stroke="#111" stroke-width="1.3" />
<line x1="642.4" y1="276.75" x2="652.4" y2="276.75" stroke="#3a3a3a" stroke-width="1.0" />
<line x1="645.8" y1="278.35" x2="649" y2="275.15" stroke="#111" stroke-width="1.3" />
<line x1="642.4" y1="285.5" x2="652.4" y2="285.5" stroke="#3a3a3a" stroke-width="1.0" />
<line x1="645.8" y1="287.1" x2="649" y2="283.9" stroke="#111" stroke-width="1.3" />
<line x1="642.4" y1="476.25" x2="652.4" y2="476.25" stroke="#3a3a3a" stroke-width="1.0" />
<line x1="645.8" y1="477.85" x2="649" y2="474.65" stroke="#111" stroke-width="1.3" />
<line x1="642.4" y1="485" x2="652.4" y2="485" stroke="#3a3a3a" stroke-width="1.0" />
<line x1="645.8" y1="486.6" x2="649" y2="483.4" stroke="#111" stroke-width="1.3" />
<line x1="642.4" y1="488.5" x2="652.4" y2="488.5" stroke="#3a3a3a" stroke-width="1.0" />
<line x1="645.8" y1="490.1" x2="649" y2="486.9" stroke="#111" stroke-width="1.3" />
<line x1="642.4" y1="593.5" x2="652.4" y2="593.5" stroke="#3a3a3a" stroke-width="1.0" />
<line x1="645.8" y1="595.1" x2="649" y2="591.9" stroke="#111" stroke-width="1.3" />
<text x="643.5" y="216.38" font-size="9.3" text-anchor="middle" fill="#151515" stroke="#151515" stroke-width="0.22" transform="rotate(-90 643.5 216.38)" >325</text>
<text x="643.5" y="264.5" font-size="9.3" text-anchor="middle" fill="#151515" stroke="#151515" stroke-width="0.22" transform="rotate(-90 643.5 264.5)" >10</text>
<text x="643.5" y="294.3" font-size="9.3" text-anchor="middle" fill="#151515" stroke="#151515" stroke-width="0.22" transform="rotate(-90 643.5 294.3)" >25</text>
<text x="643.5" y="380.88" font-size="9.3" text-anchor="middle" fill="#151515" stroke="#151515" stroke-width="0.22" transform="rotate(-90 643.5 380.88)" >545</text>
<text x="643.5" y="480.5" font-size="9.3" text-anchor="middle" fill="#151515" stroke="#151515" stroke-width="0.22" transform="rotate(-90 643.5 480.5)" >25</text>
<text x="643.5" y="497" font-size="9.3" text-anchor="middle" fill="#151515" stroke="#151515" stroke-width="0.22" transform="rotate(-90 643.5 497)" >10</text>
<text x="643.5" y="541" font-size="9.3" text-anchor="middle" fill="#151515" stroke="#151515" stroke-width="0.22" transform="rotate(-90 643.5 541)" >300</text>
<line x1="668.9" y1="149" x2="668.9" y2="604" stroke="#6d6d6d" stroke-width="1" />
<line x1="668.9" y1="150.5" x2="668.9" y2="168.5" stroke="#3a3a3a" stroke-width="1" />
<line x1="668.9" y1="264.25" x2="668.9" y2="282.25" stroke="#3a3a3a" stroke-width="1" />
<line x1="668.9" y1="267.75" x2="668.9" y2="285.75" stroke="#3a3a3a" stroke-width="1" />
<line x1="668.9" y1="276.5" x2="668.9" y2="294.5" stroke="#3a3a3a" stroke-width="1" />
<line x1="668.9" y1="348.25" x2="668.9" y2="366.25" stroke="#3a3a3a" stroke-width="1" />
<line x1="668.9" y1="351.75" x2="668.9" y2="369.75" stroke="#3a3a3a" stroke-width="1" />
<line x1="668.9" y1="467.25" x2="668.9" y2="485.25" stroke="#3a3a3a" stroke-width="1" />
<line x1="668.9" y1="476" x2="668.9" y2="494" stroke="#3a3a3a" stroke-width="1" />
<line x1="668.9" y1="479.5" x2="668.9" y2="497.5" stroke="#3a3a3a" stroke-width="1" />
<line x1="668.9" y1="584.5" x2="668.9" y2="602.5" stroke="#3a3a3a" stroke-width="1" />
<line x1="663.9" y1="159.5" x2="673.9" y2="159.5" stroke="#3a3a3a" stroke-width="1.0" />
<line x1="667.3" y1="161.1" x2="670.5" y2="157.9" stroke="#111" stroke-width="1.3" />
<line x1="663.9" y1="273.25" x2="673.9" y2="273.25" stroke="#3a3a3a" stroke-width="1.0" />
<line x1="667.3" y1="274.85" x2="670.5" y2="271.65" stroke="#111" stroke-width="1.3" />
<line x1="663.9" y1="276.75" x2="673.9" y2="276.75" stroke="#3a3a3a" stroke-width="1.0" />
<line x1="667.3" y1="278.35" x2="670.5" y2="275.15" stroke="#111" stroke-width="1.3" />
<line x1="663.9" y1="285.5" x2="673.9" y2="285.5" stroke="#3a3a3a" stroke-width="1.0" />
<line x1="667.3" y1="287.1" x2="670.5" y2="283.9" stroke="#111" stroke-width="1.3" />
<line x1="663.9" y1="357.25" x2="673.9" y2="357.25" stroke="#3a3a3a" stroke-width="1.0" />
<line x1="667.3" y1="358.85" x2="670.5" y2="355.65" stroke="#111" stroke-width="1.3" />
<line x1="663.9" y1="360.75" x2="673.9" y2="360.75" stroke="#3a3a3a" stroke-width="1.0" />
<line x1="667.3" y1="362.35" x2="670.5" y2="359.15" stroke="#111" stroke-width="1.3" />
<line x1="663.9" y1="476.25" x2="673.9" y2="476.25" stroke="#3a3a3a" stroke-width="1.0" />
<line x1="667.3" y1="477.85" x2="670.5" y2="474.65" stroke="#111" stroke-width="1.3" />
<line x1="663.9" y1="485" x2="673.9" y2="485" stroke="#3a3a3a" stroke-width="1.0" />
<line x1="667.3" y1="486.6" x2="670.5" y2="483.4" stroke="#111" stroke-width="1.3" />
<line x1="663.9" y1="488.5" x2="673.9" y2="488.5" stroke="#3a3a3a" stroke-width="1.0" />
<line x1="667.3" y1="490.1" x2="670.5" y2="486.9" stroke="#111" stroke-width="1.3" />
<line x1="663.9" y1="593.5" x2="673.9" y2="593.5" stroke="#3a3a3a" stroke-width="1.0" />
<line x1="667.3" y1="595.1" x2="670.5" y2="591.9" stroke="#111" stroke-width="1.3" />
<text x="665" y="216.38" font-size="9.3" text-anchor="middle" fill="#151515" stroke="#151515" stroke-width="0.22" transform="rotate(-90 665 216.38)" >325</text>
<text x="665" y="264.5" font-size="9.3" text-anchor="middle" fill="#151515" stroke="#151515" stroke-width="0.22" transform="rotate(-90 665 264.5)" >10</text>
<text x="665" y="294.3" font-size="9.3" text-anchor="middle" fill="#151515" stroke="#151515" stroke-width="0.22" transform="rotate(-90 665 294.3)" >25</text>
<text x="665" y="320" font-size="9.3" text-anchor="middle" fill="#151515" stroke="#151515" stroke-width="0.22" transform="rotate(-90 665 320)" >205</text>
<text x="665" y="348" font-size="9.3" text-anchor="middle" fill="#151515" stroke="#151515" stroke-width="0.22" transform="rotate(-90 665 348)" >10</text>
<text x="665" y="418.5" font-size="9.3" text-anchor="middle" fill="#151515" stroke="#151515" stroke-width="0.22" transform="rotate(-90 665 418.5)" >330</text>
<text x="665" y="480.5" font-size="9.3" text-anchor="middle" fill="#151515" stroke="#151515" stroke-width="0.22" transform="rotate(-90 665 480.5)" >25</text>
<text x="665" y="497" font-size="9.3" text-anchor="middle" fill="#151515" stroke="#151515" stroke-width="0.22" transform="rotate(-90 665 497)" >10</text>
<text x="665" y="541" font-size="9.3" text-anchor="middle" fill="#151515" stroke="#151515" stroke-width="0.22" transform="rotate(-90 665 541)" >300</text>
<line x1="691.6" y1="149" x2="691.6" y2="604" stroke="#6d6d6d" stroke-width="1" />
<line x1="691.6" y1="150.5" x2="691.6" y2="168.5" stroke="#3a3a3a" stroke-width="1" />
<line x1="691.6" y1="264.25" x2="691.6" y2="282.25" stroke="#3a3a3a" stroke-width="1" />
<line x1="691.6" y1="479.5" x2="691.6" y2="497.5" stroke="#3a3a3a" stroke-width="1" />
<line x1="691.6" y1="584.5" x2="691.6" y2="602.5" stroke="#3a3a3a" stroke-width="1" />
<line x1="686.6" y1="159.5" x2="696.6" y2="159.5" stroke="#3a3a3a" stroke-width="1.0" />
<line x1="690" y1="161.1" x2="693.2" y2="157.9" stroke="#111" stroke-width="1.3" />
<line x1="686.6" y1="273.25" x2="696.6" y2="273.25" stroke="#3a3a3a" stroke-width="1.0" />
<line x1="690" y1="274.85" x2="693.2" y2="271.65" stroke="#111" stroke-width="1.3" />
<line x1="686.6" y1="488.5" x2="696.6" y2="488.5" stroke="#3a3a3a" stroke-width="1.0" />
<line x1="690" y1="490.1" x2="693.2" y2="486.9" stroke="#111" stroke-width="1.3" />
<line x1="686.6" y1="593.5" x2="696.6" y2="593.5" stroke="#3a3a3a" stroke-width="1.0" />
<line x1="690" y1="595.1" x2="693.2" y2="591.9" stroke="#111" stroke-width="1.3" />
<text x="687.7" y="216.38" font-size="9.3" text-anchor="middle" fill="#151515" stroke="#151515" stroke-width="0.22" transform="rotate(-90 687.7 216.38)" >325</text>
<text x="687.7" y="380.88" font-size="9.3" text-anchor="middle" fill="#151515" stroke="#151515" stroke-width="0.22" transform="rotate(-90 687.7 380.88)" >615</text>
<text x="687.7" y="541" font-size="9.3" text-anchor="middle" fill="#151515" stroke="#151515" stroke-width="0.22" transform="rotate(-90 687.7 541)" >300</text>
<line x1="715" y1="149" x2="715" y2="604" stroke="#6d6d6d" stroke-width="1" />
<line x1="715" y1="150.5" x2="715" y2="168.5" stroke="#3a3a3a" stroke-width="1" />
<line x1="715" y1="584.5" x2="715" y2="602.5" stroke="#3a3a3a" stroke-width="1" />
<line x1="710" y1="159.5" x2="720" y2="159.5" stroke="#3a3a3a" stroke-width="1.0" />
<line x1="713.4" y1="161.1" x2="716.6" y2="157.9" stroke="#111" stroke-width="1.3" />
<line x1="710" y1="593.5" x2="720" y2="593.5" stroke="#3a3a3a" stroke-width="1.0" />
<line x1="713.4" y1="595.1" x2="716.6" y2="591.9" stroke="#111" stroke-width="1.3" />
<text x="711.1" y="376.5" font-size="9.3" text-anchor="middle" fill="#151515" stroke="#151515" stroke-width="0.22" transform="rotate(-90 711.1 376.5)" >1240</text>
<line x1="179.6" y1="262.9" x2="604.2" y2="262.9" stroke="#c86a6a" stroke-width="1.25" stroke-dasharray="8.6,4.535" stroke-dashoffset="2.53"/>
<line x1="179.6" y1="499.0" x2="604.2" y2="499.0" stroke="#c86a6a" stroke-width="1.25" stroke-dasharray="8.6,4.535" stroke-dashoffset="2.53"/>
<line x1="179.6" y1="262.9" x2="179.6" y2="499.0" stroke="#c86a6a" stroke-width="1.25" stroke-dasharray="8.6,4.535" stroke-dashoffset="1.1"/>
<line x1="604.2" y1="262.9" x2="604.2" y2="499.0" stroke="#c86a6a" stroke-width="1.25" stroke-dasharray="8.6,4.535" stroke-dashoffset="4.0"/>
<path d="M225.0,273.3 V159.5 H480.5 V273.3" fill="none" stroke="#9a9a9a" stroke-width="1"/>
<path d="M228.5,272.8 V163.0 H477.0 V272.8" fill="none" stroke="#111" stroke-width="1.3"/>
<path d="M231.1,272.8 V165.6 H474.4 V272.8" fill="none" stroke="#555" stroke-width="1.1"/>
<path d="M233.8,272.8 V168.3 H471.7 V272.8" fill="none" stroke="#111" stroke-width="1.3"/>
<path d="M225.3,488.5 V593.6 H593.0 V488.5" fill="none" stroke="#9a9a9a" stroke-width="1"/>
<path d="M228.5,489.0 V590.4 H589.8 V489.0" fill="none" stroke="#111" stroke-width="1.3"/>
<path d="M231.20000000000002,489.0 V587.7 H587.1 V489.0" fill="none" stroke="#555" stroke-width="1.1"/>
<path d="M233.9,489.0 V585.0 H584.4 V489.0" fill="none" stroke="#111" stroke-width="1.3"/>
<line x1="190.2" y1="273.3" x2="190.2" y2="488.5" stroke="#9a9a9a" stroke-width="1" />
<line x1="592.7" y1="273.3" x2="592.7" y2="488.5" stroke="#9a9a9a" stroke-width="1" />
<rect x="193.5" y="276.8" width="8.9" height="208.6" fill="#fff" stroke="#111" stroke-width="1.6" />
<rect x="580.4" y="276.8" width="9" height="208.6" fill="#fff" stroke="#111" stroke-width="1.6" />
<path d="M190.2,276.8 V273.3 H247.75 V276.8" fill="none" stroke="#9a9a9a" stroke-width="1"/>
<rect x="193.5" y="276.8" width="54.25" height="8.7" fill="url(#hatch)" stroke="#111" stroke-width="1.6" />
<path d="M268.75,276.8 V273.3 H349.25 V276.8" fill="none" stroke="#9a9a9a" stroke-width="1"/>
<rect x="268.75" y="276.8" width="80.5" height="8.7" fill="#fff" stroke="#111" stroke-width="1.6" />
<path d="M419.25,276.8 V273.3 H435 V276.8" fill="none" stroke="#9a9a9a" stroke-width="1"/>
<rect x="419.25" y="276.8" width="15.75" height="8.7" fill="#fff" stroke="#111" stroke-width="1.6" />
<path d="M466.5,276.8 V273.3 H519 V276.8" fill="none" stroke="#9a9a9a" stroke-width="1"/>
<rect x="466.5" y="276.8" width="52.5" height="8.7" fill="#fff" stroke="#111" stroke-width="1.6" />
<path d="M540,276.8 V273.3 H592.7 V276.8" fill="none" stroke="#9a9a9a" stroke-width="1"/>
<rect x="540" y="276.8" width="49.4" height="8.7" fill="#fff" stroke="#111" stroke-width="1.6" />
<rect x="467.7" y="276.8" width="9.2" height="8.7" fill="url(#hatch)" stroke="#111" stroke-width="1.6" />
<rect x="580.4" y="276.8" width="9" height="8.7" fill="url(#hatch)" stroke="#111" stroke-width="1.6" />
<path d="M190.2,485.4 V488.5 H258.25 V485.4" fill="none" stroke="#9a9a9a" stroke-width="1"/>
<rect x="193.5" y="476.3" width="64.75" height="9.1" fill="#fff" stroke="#111" stroke-width="1.6" />
<path d="M328.25,485.4 V488.5 H377.25 V485.4" fill="none" stroke="#9a9a9a" stroke-width="1"/>
<rect x="328.25" y="476.3" width="49" height="9.1" fill="#fff" stroke="#111" stroke-width="1.6" />
<path d="M447.25,485.4 V488.5 H496.25 V485.4" fill="none" stroke="#9a9a9a" stroke-width="1"/>
<rect x="447.25" y="476.3" width="49" height="9.1" fill="#fff" stroke="#111" stroke-width="1.6" />
<path d="M566.25,485.4 V488.5 H592.7 V485.4" fill="none" stroke="#9a9a9a" stroke-width="1"/>
<rect x="566.25" y="476.3" width="23.15" height="9.1" fill="#fff" stroke="#111" stroke-width="1.6" />
<rect x="193.5" y="476.3" width="43.75" height="9.1" fill="url(#hatch)" stroke="#111" stroke-width="1.6" />
<rect x="468.25" y="476.3" width="8.75" height="9.1" fill="url(#hatch)" stroke="#111" stroke-width="1.6" />
<rect x="580.4" y="476.3" width="9" height="9.1" fill="url(#hatch)" stroke="#111" stroke-width="1.6" />
<line x1="247.75" y1="276.9" x2="268.75" y2="276.9" stroke="#555" stroke-width="1.1" />
<line x1="247.75" y1="279.6" x2="268.75" y2="279.6" stroke="#222" stroke-width="1" />
<rect x="248.75" y="280.6" width="19" height="2.2" fill="#9a9a9a" stroke="none" stroke-width="0" />
<line x1="247.75" y1="285.1" x2="268.75" y2="285.1" stroke="#222" stroke-width="1" />
<line x1="248.75" y1="279.6" x2="248.75" y2="285.1" stroke="#333" stroke-width="1.2" />
<line x1="267.75" y1="279.6" x2="267.75" y2="285.1" stroke="#333" stroke-width="1.2" />
<line x1="349.25" y1="276.9" x2="419.25" y2="276.9" stroke="#555" stroke-width="1.1" />
<line x1="349.25" y1="279.6" x2="419.25" y2="279.6" stroke="#222" stroke-width="1" />
<rect x="350.25" y="280.6" width="68" height="2.2" fill="#9a9a9a" stroke="none" stroke-width="0" />
<line x1="349.25" y1="285.1" x2="419.25" y2="285.1" stroke="#222" stroke-width="1" />
<line x1="350.25" y1="279.6" x2="350.25" y2="285.1" stroke="#333" stroke-width="1.2" />
<line x1="418.25" y1="279.6" x2="418.25" y2="285.1" stroke="#333" stroke-width="1.2" />
<line x1="519" y1="276.9" x2="540" y2="276.9" stroke="#555" stroke-width="1.1" />
<line x1="519" y1="279.6" x2="540" y2="279.6" stroke="#222" stroke-width="1" />
<rect x="520" y="280.6" width="19" height="2.2" fill="#9a9a9a" stroke="none" stroke-width="0" />
<line x1="519" y1="285.1" x2="540" y2="285.1" stroke="#222" stroke-width="1" />
<line x1="520" y1="279.6" x2="520" y2="285.1" stroke="#333" stroke-width="1.2" />
<line x1="539" y1="279.6" x2="539" y2="285.1" stroke="#333" stroke-width="1.2" />
<line x1="435" y1="277.2" x2="466.5" y2="277.2" stroke="#333" stroke-width="1.1" />
<line x1="435" y1="280.4" x2="466.5" y2="280.4" stroke="#222" stroke-width="1" />
<rect x="435.6" y="276.8" width="1.8" height="8.7" fill="#333" stroke="none" stroke-width="0" />
<rect x="465.6" y="276.8" width="1.8" height="8.7" fill="#333" stroke="none" stroke-width="0" />
<line x1="258.25" y1="476.3" x2="328.25" y2="476.3" stroke="#c86a6a" stroke-width="1" stroke-dasharray="2.2,1.2"/>
<line x1="258.25" y1="485.1" x2="328.25" y2="485.1" stroke="#c86a6a" stroke-width="1" stroke-dasharray="2.2,1.2"/>
<line x1="258.25" y1="478.5" x2="328.25" y2="478.5" stroke="#444" stroke-width="0.9" />
<rect x="258.25" y="479" width="70" height="3" fill="#9a9a9a" stroke="none" stroke-width="0" />
<line x1="258.25" y1="482.4" x2="328.25" y2="482.4" stroke="#222" stroke-width="1" />
<path d="M258.45,482.6 L260.45,479.8 L262.45,482.6 Z" fill="#222" stroke="none"/>
<path d="M291.25,482.6 L293.25,479.8 L295.25,482.6 Z" fill="#222" stroke="none"/>
<path d="M324.05,482.6 L326.05,479.8 L328.05,482.6 Z" fill="#222" stroke="none"/>
<line x1="377.25" y1="476.3" x2="447.25" y2="476.3" stroke="#c86a6a" stroke-width="1" stroke-dasharray="2.2,1.2"/>
<line x1="377.25" y1="485.1" x2="447.25" y2="485.1" stroke="#c86a6a" stroke-width="1" stroke-dasharray="2.2,1.2"/>
<line x1="377.25" y1="478.5" x2="447.25" y2="478.5" stroke="#444" stroke-width="0.9" />
<rect x="377.25" y="479" width="70" height="3" fill="#9a9a9a" stroke="none" stroke-width="0" />
<line x1="377.25" y1="482.4" x2="447.25" y2="482.4" stroke="#222" stroke-width="1" />
<path d="M377.45,482.6 L379.45,479.8 L381.45,482.6 Z" fill="#222" stroke="none"/>
<path d="M410.25,482.6 L412.25,479.8 L414.25,482.6 Z" fill="#222" stroke="none"/>
<path d="M443.05,482.6 L445.05,479.8 L447.05,482.6 Z" fill="#222" stroke="none"/>
<line x1="496.25" y1="476.3" x2="566.25" y2="476.3" stroke="#c86a6a" stroke-width="1" stroke-dasharray="2.2,1.2"/>
<line x1="496.25" y1="485.1" x2="566.25" y2="485.1" stroke="#c86a6a" stroke-width="1" stroke-dasharray="2.2,1.2"/>
<line x1="496.25" y1="478.5" x2="566.25" y2="478.5" stroke="#444" stroke-width="0.9" />
<rect x="496.25" y="479" width="70" height="3" fill="#9a9a9a" stroke="none" stroke-width="0" />
<line x1="496.25" y1="482.4" x2="566.25" y2="482.4" stroke="#222" stroke-width="1" />
<path d="M496.45,482.6 L498.45,479.8 L500.45,482.6 Z" fill="#222" stroke="none"/>
<path d="M529.25,482.6 L531.25,479.8 L533.25,482.6 Z" fill="#222" stroke="none"/>
<path d="M562.05,482.6 L564.05,479.8 L566.05,482.6 Z" fill="#222" stroke="none"/>
<line x1="238" y1="357.4" x2="264.9" y2="357.4" stroke="#333" stroke-width="0.9" />
<line x1="238" y1="360.7" x2="264.9" y2="360.7" stroke="#999" stroke-width="1.0" />
<line x1="291.7" y1="357.4" x2="320.7" y2="357.4" stroke="#333" stroke-width="0.9" />
<line x1="291.7" y1="360.7" x2="320.7" y2="360.7" stroke="#999" stroke-width="1.0" />
<line x1="363.6" y1="357.4" x2="394.5" y2="357.4" stroke="#333" stroke-width="0.9" />
<line x1="363.6" y1="360.7" x2="394.5" y2="360.7" stroke="#999" stroke-width="1.0" />
<rect x="277.7" y="285.5" width="3.3" height="71.9" fill="#fff" stroke="#111" stroke-width="1.3" />
<rect x="202.4" y="357.4" width="35.6" height="3.3" fill="#fff" stroke="#111" stroke-width="1.3" />
<rect x="264.9" y="357.4" width="26.8" height="3.3" fill="#fff" stroke="#111" stroke-width="1.3" />
<rect x="320.7" y="357.4" width="42.9" height="3.3" fill="#fff" stroke="#111" stroke-width="1.3" />
<rect x="394.5" y="357.4" width="74.1" height="3.3" fill="#fff" stroke="#111" stroke-width="1.3" />
<rect x="477.3" y="357.4" width="103.1" height="3.3" fill="#fff" stroke="#111" stroke-width="1.3" />
<rect x="333.6" y="360.7" width="3.5" height="115.6" fill="#fff" stroke="#111" stroke-width="1.3" />
<rect x="468.6" y="366" width="8.7" height="110.3" fill="#fff" stroke="#111" stroke-width="1.3" />
<rect x="468.6" y="357.4" width="8.7" height="8.6" fill="url(#hatch)" stroke="#111" stroke-width="1.3" />
<path d="M474.0,285.5 V329.0 H516.4 V325.7 H477.2 V285.5" fill="#fff" stroke="#111" stroke-width="1.3"/>
<path d="M281.2,321.3 H433.9 V285.6" fill="none" stroke="#dc7070" stroke-width="1.7"/>
<line x1="433.9" y1="284.9" x2="466" y2="284.9" stroke="#d05555" stroke-width="1.0" />
<line x1="316.3" y1="285.5" x2="316.3" y2="321.3" stroke="#dc7878" stroke-width="1.1" />
<line x1="326.1" y1="285.5" x2="326.1" y2="321.3" stroke="#dc7878" stroke-width="1.1" />
<line x1="335.9" y1="285.5" x2="335.9" y2="321.3" stroke="#dc7878" stroke-width="1.1" />
<line x1="345.7" y1="285.5" x2="345.7" y2="321.3" stroke="#dc7878" stroke-width="1.1" />
<line x1="355.5" y1="285.5" x2="355.5" y2="321.3" stroke="#dc7878" stroke-width="1.1" />
<line x1="365.3" y1="285.5" x2="365.3" y2="321.3" stroke="#dc7878" stroke-width="1.1" />
<line x1="375.1" y1="285.5" x2="375.1" y2="321.3" stroke="#dc7878" stroke-width="1.1" />
<line x1="384.9" y1="285.5" x2="384.9" y2="321.3" stroke="#dc7878" stroke-width="1.1" />
<line x1="394.7" y1="285.5" x2="394.7" y2="321.3" stroke="#dc7878" stroke-width="1.1" />
<line x1="404.5" y1="285.5" x2="404.5" y2="321.3" stroke="#dc7878" stroke-width="1.1" />
<line x1="414.3" y1="285.5" x2="414.3" y2="321.3" stroke="#dc7878" stroke-width="1.1" />
<line x1="424.1" y1="285.5" x2="424.1" y2="321.3" stroke="#dc7878" stroke-width="1.1" />
<line x1="316.3" y1="321.3" x2="296.7" y2="285.5" stroke="#c04848" stroke-width="1.1" />
<line x1="316.3" y1="321.3" x2="281.2" y2="302.5" stroke="#c04848" stroke-width="1.1" />
<path d="M297.5,321 A20,20 0 0 1 312,303" fill="none" stroke="#c8c8c8" stroke-width="0.8"/>
<path d="M425.5,295.5 L432.5,302.8 L425.5,310" fill="none" stroke="#bbb" stroke-width="0.8"/>
<text x="284.7" y="291.8" font-size="6.0" text-anchor="middle" fill="#222" stroke="#222" stroke-width="0.22" >3</text>
<text x="310.5" y="291.8" font-size="6.0" text-anchor="middle" fill="#222" stroke="#222" stroke-width="0.22" >4</text>
<text x="284.2" y="314.3" font-size="6.0" text-anchor="middle" fill="#222" stroke="#222" stroke-width="0.22" >2</text>
<text x="321.2" y="291.8" font-size="6.0" text-anchor="middle" fill="#222" stroke="#222" stroke-width="0.22" >5</text>
<text x="331" y="291.8" font-size="6.0" text-anchor="middle" fill="#222" stroke="#222" stroke-width="0.22" >6</text>
<text x="340.8" y="291.8" font-size="6.0" text-anchor="middle" fill="#222" stroke="#222" stroke-width="0.22" >7</text>
<text x="350.6" y="291.8" font-size="6.0" text-anchor="middle" fill="#222" stroke="#222" stroke-width="0.22" >8</text>
<text x="360.4" y="291.8" font-size="6.0" text-anchor="middle" fill="#222" stroke="#222" stroke-width="0.22" >9</text>
<text x="370.2" y="291.8" font-size="6.0" text-anchor="middle" fill="#222" stroke="#222" stroke-width="0.22" >10</text>
<text x="380" y="291.8" font-size="6.0" text-anchor="middle" fill="#222" stroke="#222" stroke-width="0.22" >11</text>
<text x="389.8" y="291.8" font-size="6.0" text-anchor="middle" fill="#222" stroke="#222" stroke-width="0.22" >12</text>
<text x="399.6" y="291.8" font-size="6.0" text-anchor="middle" fill="#222" stroke="#222" stroke-width="0.22" >13</text>
<text x="409.4" y="291.8" font-size="6.0" text-anchor="middle" fill="#222" stroke="#222" stroke-width="0.22" >14</text>
<text x="419.2" y="291.8" font-size="6.0" text-anchor="middle" fill="#222" stroke="#222" stroke-width="0.22" >15</text>
<text x="429" y="291.8" font-size="6.0" text-anchor="middle" fill="#222" stroke="#222" stroke-width="0.22" >16</text>
<text transform="translate(328.6,300.5) scale(1.08,1)" font-size="6.7" fill="#1c1c1c" stroke="#1c1c1c" stroke-width="0.22">17x17.41 cm</text>
<text transform="translate(328.6,310.5) scale(1.08,1)" font-size="6.7" fill="#1c1c1c" stroke="#1c1c1c" stroke-width="0.22">16x28 cm</text>
<line x1="238.9" y1="357.4" x2="238.9" y2="332.5" stroke="#777" stroke-width="1.0" />
<path d="M238.9,332.5 A24.9,24.9 0 0 1 263.8,357.4" fill="none" stroke="#2a2a2a" stroke-width="1"/>
<line x1="319.9" y1="360.7" x2="319.9" y2="388.6" stroke="#777" stroke-width="1.0" />
<path d="M319.9,388.6 A27.9,27.9 0 0 1 291.7,360.7" fill="none" stroke="#2a2a2a" stroke-width="1"/>
<line x1="365.3" y1="360.7" x2="365.3" y2="388.6" stroke="#777" stroke-width="1.0" />
<path d="M365.3,388.6 A27.9,27.9 0 0 0 394,360.7" fill="none" stroke="#2a2a2a" stroke-width="1"/>
<line x1="480.6" y1="360.7" x2="480.6" y2="388.6" stroke="#777" stroke-width="1.0" />
<path d="M480.6,388.6 A27.9,27.9 0 0 0 509.6,360.7" fill="none" stroke="#2a2a2a" stroke-width="1"/>
<line x1="516.4" y1="357.4" x2="516.4" y2="332" stroke="#777" stroke-width="1.0" />
<path d="M516.4,332 A25.4,25.4 0 0 1 541,357.4" fill="none" stroke="#2a2a2a" stroke-width="1"/>
<line x1="465.7" y1="285.5" x2="465.7" y2="308.6" stroke="#777" stroke-width="1.0" />
<path d="M437.4,285.5 A28.3,23.3 0 0 0 465.7,308.6" fill="none" stroke="#2a2a2a" stroke-width="1"/>
<path d="M202.4,334.7 H235.6 V285.5" fill="none" stroke="#8c8c8c" stroke-width="0.8"/>
<rect x="206.5" y="288.2" width="24.1" height="3" fill="#c8c8c8" stroke="#9a9a9a" stroke-width="0.7" />
<line x1="208.51" y1="288.2" x2="208.51" y2="291.2" stroke="#f2f2f2" stroke-width="0.5" />
<line x1="210.52" y1="288.2" x2="210.52" y2="291.2" stroke="#f2f2f2" stroke-width="0.5" />
<line x1="212.53" y1="288.2" x2="212.53" y2="291.2" stroke="#f2f2f2" stroke-width="0.5" />
<line x1="214.53" y1="288.2" x2="214.53" y2="291.2" stroke="#f2f2f2" stroke-width="0.5" />
<line x1="216.54" y1="288.2" x2="216.54" y2="291.2" stroke="#f2f2f2" stroke-width="0.5" />
<line x1="218.55" y1="288.2" x2="218.55" y2="291.2" stroke="#f2f2f2" stroke-width="0.5" />
<line x1="220.56" y1="288.2" x2="220.56" y2="291.2" stroke="#f2f2f2" stroke-width="0.5" />
<line x1="222.57" y1="288.2" x2="222.57" y2="291.2" stroke="#f2f2f2" stroke-width="0.5" />
<line x1="224.57" y1="288.2" x2="224.57" y2="291.2" stroke="#f2f2f2" stroke-width="0.5" />
<line x1="226.58" y1="288.2" x2="226.58" y2="291.2" stroke="#f2f2f2" stroke-width="0.5" />
<line x1="228.59" y1="288.2" x2="228.59" y2="291.2" stroke="#f2f2f2" stroke-width="0.5" />
<ellipse cx="261.6" cy="298.5" rx="6.2" ry="5.2" fill="#fff" stroke="#888" stroke-width="1.3"/>
<ellipse cx="261.6" cy="298.5" rx="4.6" ry="3.8" fill="none" stroke="#bbb" stroke-width="0.6"/>
<circle cx="263.1" cy="298.5" r="1.4" fill="none" stroke="#888" stroke-width="0.6"/>
<rect x="271.7" y="291.2" width="4.4" height="15" rx="2" fill="#fff" stroke="#888" stroke-width="1"/>
<circle cx="273.9" cy="298.7" r="0.6" fill="#555"/>
<rect x="266.2" y="312.2" width="9.9" height="44.3" fill="none" stroke="#8c8c8c" stroke-width="0.8" />
<ellipse cx="269.9" cy="334.2" rx="6.0" ry="11.4" fill="#fff" stroke="#888" stroke-width="1.3"/>
<ellipse cx="269.9" cy="334.2" rx="4.6" ry="9.8" fill="none" stroke="#bbb" stroke-width="0.6"/>
<circle cx="269.9" cy="334.6" r="0.9" fill="#555"/>
<rect x="483.3" y="287.7" width="24.3" height="3.4" fill="#c8c8c8" stroke="#9a9a9a" stroke-width="0.7" />
<line x1="485.32" y1="287.7" x2="485.32" y2="291.1" stroke="#f2f2f2" stroke-width="0.5" />
<line x1="487.35" y1="287.7" x2="487.35" y2="291.1" stroke="#f2f2f2" stroke-width="0.5" />
<line x1="489.38" y1="287.7" x2="489.38" y2="291.1" stroke="#f2f2f2" stroke-width="0.5" />
<line x1="491.4" y1="287.7" x2="491.4" y2="291.1" stroke="#f2f2f2" stroke-width="0.5" />
<line x1="493.43" y1="287.7" x2="493.43" y2="291.1" stroke="#f2f2f2" stroke-width="0.5" />
<line x1="495.45" y1="287.7" x2="495.45" y2="291.1" stroke="#f2f2f2" stroke-width="0.5" />
<line x1="497.48" y1="287.7" x2="497.48" y2="291.1" stroke="#f2f2f2" stroke-width="0.5" />
<line x1="499.5" y1="287.7" x2="499.5" y2="291.1" stroke="#f2f2f2" stroke-width="0.5" />
<line x1="501.53" y1="287.7" x2="501.53" y2="291.1" stroke="#f2f2f2" stroke-width="0.5" />
<line x1="503.55" y1="287.7" x2="503.55" y2="291.1" stroke="#f2f2f2" stroke-width="0.5" />
<line x1="505.58" y1="287.7" x2="505.58" y2="291.1" stroke="#f2f2f2" stroke-width="0.5" />
<line x1="515.9" y1="285.5" x2="515.9" y2="325.7" stroke="#8c8c8c" stroke-width="0.8" />
<line x1="512.6" y1="329.3" x2="512.6" y2="356.6" stroke="#8c8c8c" stroke-width="0.8" />
<rect x="541.4" y="287.2" width="15.5" height="4.4" rx="2" fill="#fff" stroke="#888" stroke-width="1"/>
<circle cx="549.2" cy="289.4" r="0.6" fill="#555"/>
<ellipse cx="549.2" cy="300.5" rx="6.4" ry="8.1" fill="#fff" stroke="#888" stroke-width="1.3"/>
<ellipse cx="549.2" cy="300.8" rx="4.9" ry="6.4" fill="none" stroke="#bbb" stroke-width="0.6"/>
<circle cx="549.2" cy="300" r="1.4" fill="none" stroke="#888" stroke-width="0.6"/>
<rect x="565.8" y="315.4" width="14.4" height="31.6" fill="none" stroke="#8c8c8c" stroke-width="0.8" />
<ellipse cx="574.1" cy="330.9" rx="5.4" ry="8.7" fill="#fff" stroke="#888" stroke-width="1.3"/>
<ellipse cx="574.1" cy="330.9" rx="4.0" ry="7.2" fill="none" stroke="#bbb" stroke-width="0.6"/>
<circle cx="575.0" cy="331" r="0.9" fill="#555"/>
<rect x="202.4" y="385.3" width="73.8" height="62.6" fill="none" stroke="#8c8c8c" stroke-width="0.8" />
<line x1="202.9" y1="416.8" x2="276.2" y2="385.3" stroke="#8c8c8c" stroke-width="0.8" />
<line x1="202.9" y1="416.8" x2="276.2" y2="447.9" stroke="#8c8c8c" stroke-width="0.8" />
<rect x="202.4" y="366.2" width="10.8" height="19.1" fill="none" stroke="#8c8c8c" stroke-width="0.8" />
<rect x="202.4" y="447.9" width="10.8" height="20.1" fill="none" stroke="#8c8c8c" stroke-width="0.8" />
<rect x="314.5" y="391.5" width="18.3" height="66.8" fill="none" stroke="#8c8c8c" stroke-width="0.8" />
<line x1="358.6" y1="360.7" x2="358.6" y2="476.3" stroke="#8c8c8c" stroke-width="0.8" />
<rect x="396" y="387.4" width="72.6" height="63.2" fill="none" stroke="#8c8c8c" stroke-width="0.8" />
<line x1="396.3" y1="387.6" x2="468.4" y2="418.5" stroke="#8c8c8c" stroke-width="0.8" />
<line x1="396.3" y1="450.4" x2="468.4" y2="418.5" stroke="#8c8c8c" stroke-width="0.8" />
<line x1="459" y1="360.7" x2="459" y2="387.4" stroke="#8c8c8c" stroke-width="0.8" />
<line x1="459" y1="450.6" x2="459" y2="476.3" stroke="#8c8c8c" stroke-width="0.8" />
<rect x="528.5" y="361.4" width="51.9" height="20.8" fill="none" stroke="#8c8c8c" stroke-width="0.8" />
<line x1="528.5" y1="361.4" x2="580.4" y2="382.2" stroke="#8c8c8c" stroke-width="0.8" />
<line x1="528.5" y1="382.2" x2="580.4" y2="361.4" stroke="#8c8c8c" stroke-width="0.8" />
<rect x="507.3" y="398.8" width="73.1" height="61.2" fill="none" stroke="#8c8c8c" stroke-width="0.8" />
<line x1="507.6" y1="399.3" x2="580.4" y2="429.9" stroke="#8c8c8c" stroke-width="0.8" />
<line x1="507.6" y1="459.6" x2="580.4" y2="429.9" stroke="#8c8c8c" stroke-width="0.8" />
<line x1="570" y1="382.2" x2="570" y2="398.8" stroke="#8c8c8c" stroke-width="0.8" />
<line x1="570" y1="460" x2="570" y2="476.3" stroke="#8c8c8c" stroke-width="0.8" />
<rect x="223.3" y="462.2" width="14.1" height="14.1" fill="#fff" stroke="#111" stroke-width="1.5" />
<circle cx="230.35" cy="469.3" r="4.0" fill="none" stroke="#111" stroke-width="1.2"/>
<line x1="227.6" y1="472" x2="233.1" y2="466.5" stroke="#111" stroke-width="1.1" />
<text x="240.2" y="465.6" font-size="6.1" text-anchor="start" fill="#222" stroke="#222" stroke-width="0.22" >dimnjak</text>
<text x="240.2" y="474.6" font-size="6.1" text-anchor="start" fill="#222" stroke="#222" stroke-width="0.22" >40/40 cm</text>
<rect x="437.5" y="336.7" width="27.5" height="19.1" fill="none" stroke="#bbb" stroke-width="0.8" stroke-dasharray="2,1.2"/>
<line x1="438" y1="355.5" x2="464.5" y2="337.2" stroke="#bbb" stroke-width="0.7" />
<text x="392.2" y="340.6" font-size="6.1" text-anchor="start" fill="#222" stroke="#222" stroke-width="0.22" >otvor u ploči za</text>
<text x="392.2" y="348.4" font-size="6.1" text-anchor="start" fill="#222" stroke="#222" stroke-width="0.22" >pristup tavanu</text>
<text x="392.2" y="356.5" font-size="6.1" text-anchor="start" fill="#222" stroke="#222" stroke-width="0.22" >80/60 cm</text>
<line x1="298.8" y1="472.5" x2="317.6" y2="472.5" stroke="#999" stroke-width="0.9" />
<path d="M301.4,470.6 L298.8,472.5 L301.4,474.4" fill="none" stroke="#999" stroke-width="0.9"/>
<line x1="389.1" y1="472.5" x2="407.8" y2="472.5" stroke="#999" stroke-width="0.9" />
<path d="M405.2,470.6 L407.8,472.5 L405.2,474.4" fill="none" stroke="#999" stroke-width="0.9"/>
<line x1="507.7" y1="472.5" x2="526.4" y2="472.5" stroke="#999" stroke-width="0.9" />
<path d="M523.8,470.6 L526.4,472.5 L523.8,474.4" fill="none" stroke="#999" stroke-width="0.9"/>
<circle cx="365.5" cy="208.5" r="8.0" fill="#fff" stroke="#222" stroke-width="1.05"/>
<text x="365.5" y="211.7" font-size="9" text-anchor="middle" fill="#111" stroke="#111" stroke-width="0.22" >1</text>
<circle cx="251.2" cy="317.3" r="7.8" fill="#fff" stroke="#222" stroke-width="1.05"/>
<text x="251.2" y="320.5" font-size="9" text-anchor="middle" fill="#111" stroke="#111" stroke-width="0.22" >2</text>
<circle cx="399.7" cy="311.7" r="7.9" fill="#fff" stroke="#222" stroke-width="1.05"/>
<text x="399.7" y="314.9" font-size="9" text-anchor="middle" fill="#111" stroke="#111" stroke-width="0.22" >3</text>
<circle cx="336.7" cy="339.2" r="7.9" fill="#fff" stroke="#222" stroke-width="1.05"/>
<text x="336.7" y="342.4" font-size="9" text-anchor="middle" fill="#111" stroke="#111" stroke-width="0.22" >4</text>
<circle cx="531.7" cy="315.2" r="8.0" fill="#fff" stroke="#222" stroke-width="1.05"/>
<text x="531.7" y="318.4" font-size="9" text-anchor="middle" fill="#111" stroke="#111" stroke-width="0.22" >5</text>
<circle cx="294.6" cy="416.8" r="7.9" fill="#fff" stroke="#222" stroke-width="1.05"/>
<text x="294.6" y="420" font-size="9" text-anchor="middle" fill="#111" stroke="#111" stroke-width="0.22" >6</text>
<circle cx="376.7" cy="416.4" r="7.9" fill="#fff" stroke="#222" stroke-width="1.05"/>
<text x="376.7" y="419.6" font-size="9" text-anchor="middle" fill="#111" stroke="#111" stroke-width="0.22" >7</text>
<circle cx="516.0" cy="418.0" r="7.9" fill="#fff" stroke="#222" stroke-width="1.05"/>
<text x="516" y="421.2" font-size="9" text-anchor="middle" fill="#111" stroke="#111" stroke-width="0.22" >8</text>
<circle cx="363.2" cy="524.9" r="8.2" fill="#fff" stroke="#222" stroke-width="1.05"/>
<text x="363.2" y="528.1" font-size="9" text-anchor="middle" fill="#111" stroke="#111" stroke-width="0.22" >9</text>
<line x1="352" y1="223.3" x2="352" y2="245.5" stroke="#555" stroke-width="1" />
<line x1="340.5" y1="234.6" x2="383.7" y2="234.6" stroke="#444" stroke-width="1" />
<circle cx="352.0" cy="234.6" r="5.8" fill="#fff" stroke="#111" stroke-width="0.9"/>
<path d="M352.0,234.6 V228.8 A5.8,5.8 0 0 1 357.8,234.6 Z" fill="#111"/>
<path d="M352.0,234.6 V240.4 A5.8,5.8 0 0 1 346.2,234.6 Z" fill="#111"/>
<text x="358.3" y="232" font-size="10" text-anchor="start" fill="#151515" stroke="#151515" stroke-width="0.22" >+3.00</text>
<line x1="365.3" y1="325" x2="365.3" y2="345.8" stroke="#555" stroke-width="1" />
<line x1="354.2" y1="335.8" x2="395" y2="335.8" stroke="#444" stroke-width="1" />
<circle cx="365.3" cy="335.8" r="5.8" fill="#fff" stroke="#111" stroke-width="0.9"/>
<path d="M365.3,335.8 V330 A5.8,5.8 0 0 1 371.1,335.8 Z" fill="#111"/>
<path d="M365.3,335.8 V341.6 A5.8,5.8 0 0 1 359.5,335.8 Z" fill="#111"/>
<text x="371.6" y="333.2" font-size="10" text-anchor="start" fill="#151515" stroke="#151515" stroke-width="0.22" >+3.00</text>
<line x1="349.4" y1="540.5" x2="349.4" y2="562.5" stroke="#555" stroke-width="1" />
<line x1="338.4" y1="551.5" x2="380.6" y2="551.5" stroke="#444" stroke-width="1" />
<circle cx="349.4" cy="551.5" r="5.8" fill="#fff" stroke="#111" stroke-width="0.9"/>
<path d="M349.4,551.5 V545.7 A5.8,5.8 0 0 1 355.2,551.5 Z" fill="#111"/>
<path d="M349.4,551.5 V557.3 A5.8,5.8 0 0 1 343.6,551.5 Z" fill="#111"/>
<text x="355.7" y="548.9" font-size="10" text-anchor="start" fill="#151515" stroke="#151515" stroke-width="0.22" >+3.00</text>
<text x="345.3" y="175.5" font-size="6.2" text-anchor="middle" fill="#1c1c1c" stroke="#1c1c1c" stroke-width="0.22" >ograda h=110 cm</text>
<text transform="translate(241.2,227.3) rotate(-90)" font-size="6.2" text-anchor="middle" fill="#1c1c1c" stroke="#1c1c1c" stroke-width="0.22">ograda h=110 cm</text>
<text transform="translate(468.9,226.3) rotate(-90)" font-size="6.2" text-anchor="middle" fill="#1c1c1c" stroke="#1c1c1c" stroke-width="0.22">ograda h=110 cm</text>
<text transform="translate(241.6,535) rotate(-90)" font-size="6.2" text-anchor="middle" fill="#1c1c1c" stroke="#1c1c1c" stroke-width="0.22">ograda h=110 cm</text>
<text x="347.8" y="580.8" font-size="6.2" text-anchor="middle" fill="#1c1c1c" stroke="#1c1c1c" stroke-width="0.22" >ograda h=110 cm</text>
<text transform="translate(581.8,542.9) rotate(-90)" font-size="6.2" text-anchor="middle" fill="#1c1c1c" stroke="#1c1c1c" stroke-width="0.22">ograda h=110 cm</text>
<line x1="326" y1="210.6" x2="326" y2="234.2" stroke="#666" stroke-width="1.1" />
<path d="M323.5,210.8 L326,205.8 L328.5,210.8 Z" fill="#111"/>
<text transform="translate(324.3,222.5) rotate(-90)" font-size="7" text-anchor="middle" fill="#1c1c1c" stroke="#1c1c1c" stroke-width="0.22">I=0.5%</text>
<line x1="326.1" y1="512.6" x2="326.1" y2="535.6" stroke="#666" stroke-width="1.1" />
<path d="M323.6,535.4 L326.1,540.4 L328.6,535.4 Z" fill="#111"/>
<text transform="translate(324.4,524.2) rotate(-90)" font-size="7" text-anchor="middle" fill="#1c1c1c" stroke="#1c1c1c" stroke-width="0.22">I=0.5%</text>
<line x1="258.6" y1="259.8" x2="258.6" y2="296.2" stroke="#333" stroke-width="0.9" />
<text transform="translate(256.7,272) rotate(-90)" font-size="6.6" text-anchor="start" fill="#1c1c1c" stroke="#1c1c1c" stroke-width="0.22">60</text>
<text transform="translate(265.2,272) rotate(-90)" font-size="6.6" text-anchor="start" fill="#1c1c1c" stroke="#1c1c1c" stroke-width="0.22">80</text>
<text transform="translate(260.6,257) rotate(-90)" font-size="6.2" text-anchor="start" fill="#1c1c1c" stroke="#1c1c1c" stroke-width="0.22">p=120cm</text>
<line x1="386.2" y1="257.5" x2="386.2" y2="286.7" stroke="#333" stroke-width="0.9" />
<text transform="translate(384.3,271) rotate(-90)" font-size="6.6" text-anchor="start" fill="#1c1c1c" stroke="#1c1c1c" stroke-width="0.22">200</text>
<text transform="translate(392.8,271) rotate(-90)" font-size="6.6" text-anchor="start" fill="#1c1c1c" stroke="#1c1c1c" stroke-width="0.22">80</text>
<line x1="451.4" y1="270.8" x2="451.4" y2="301.9" stroke="#333" stroke-width="0.9" />
<text transform="translate(449.5,293) rotate(-90)" font-size="6.2" text-anchor="start" fill="#1c1c1c" stroke="#1c1c1c" stroke-width="0.22">90</text>
<text transform="translate(457.8,297) rotate(-90)" font-size="6.2" text-anchor="start" fill="#1c1c1c" stroke="#1c1c1c" stroke-width="0.22">220</text>
<line x1="530.5" y1="257.5" x2="530.5" y2="292.3" stroke="#333" stroke-width="0.9" />
<text transform="translate(528.6,271) rotate(-90)" font-size="6.6" text-anchor="start" fill="#1c1c1c" stroke="#1c1c1c" stroke-width="0.22">60</text>
<text transform="translate(537.1,271) rotate(-90)" font-size="6.6" text-anchor="start" fill="#1c1c1c" stroke="#1c1c1c" stroke-width="0.22">80</text>
<text transform="translate(532.4,257) rotate(-90)" font-size="6.2" text-anchor="start" fill="#1c1c1c" stroke="#1c1c1c" stroke-width="0.22">p=120cm</text>
<line x1="251.4" y1="333.4" x2="251.4" y2="366.4" stroke="#333" stroke-width="0.9" />
<text transform="translate(249.5,355.8) rotate(-90) scale(0.82,1)" font-size="7.6" text-anchor="start" fill="#1c1c1c" stroke="#1c1c1c" stroke-width="0.22">71</text>
<text transform="translate(258.7,355.8) rotate(-90) scale(0.82,1)" font-size="7.6" text-anchor="start" fill="#1c1c1c" stroke="#1c1c1c" stroke-width="0.22">205</text>
<line x1="307.6" y1="350" x2="307.6" y2="384.3" stroke="#333" stroke-width="0.9" />
<text transform="translate(306,374.6) rotate(-90) scale(0.78,1)" font-size="7.6" text-anchor="start" fill="#1c1c1c" stroke="#1c1c1c" stroke-width="0.22">81</text>
<text transform="translate(314.6,374.6) rotate(-90) scale(0.78,1)" font-size="7.6" text-anchor="start" fill="#1c1c1c" stroke="#1c1c1c" stroke-width="0.22">205</text>
<line x1="379.2" y1="350" x2="379.2" y2="384.3" stroke="#333" stroke-width="0.9" />
<text transform="translate(377.6,374.6) rotate(-90) scale(0.78,1)" font-size="7.6" text-anchor="start" fill="#1c1c1c" stroke="#1c1c1c" stroke-width="0.22">81</text>
<text transform="translate(386.2,374.6) rotate(-90) scale(0.78,1)" font-size="7.6" text-anchor="start" fill="#1c1c1c" stroke="#1c1c1c" stroke-width="0.22">205</text>
<line x1="495.3" y1="360.7" x2="495.3" y2="384.3" stroke="#333" stroke-width="0.9" />
<text transform="translate(493.7,374.6) rotate(-90) scale(0.78,1)" font-size="7.6" text-anchor="start" fill="#1c1c1c" stroke="#1c1c1c" stroke-width="0.22">81</text>
<text transform="translate(502.3,374.6) rotate(-90) scale(0.78,1)" font-size="7.6" text-anchor="start" fill="#1c1c1c" stroke="#1c1c1c" stroke-width="0.22">205</text>
<line x1="508.2" y1="343.3" x2="540.9" y2="343.3" stroke="#333" stroke-width="0.9" />
<text transform="translate(518.2,341.4) scale(0.8,1)" font-size="7" fill="#1c1c1c" stroke="#1c1c1c" stroke-width="0.22">71</text>
<text transform="translate(518.2,350.9) scale(0.8,1)" font-size="7" fill="#1c1c1c" stroke="#1c1c1c" stroke-width="0.22">205</text>
<line x1="293.4" y1="471" x2="293.4" y2="499.5" stroke="#333" stroke-width="0.9" />
<text transform="translate(291.5,498.4) rotate(-90)" font-size="6.6" text-anchor="start" fill="#1c1c1c" stroke="#1c1c1c" stroke-width="0.22">200</text>
<text transform="translate(300,498.4) rotate(-90)" font-size="6.6" text-anchor="start" fill="#1c1c1c" stroke="#1c1c1c" stroke-width="0.22">220</text>
<line x1="412.6" y1="471" x2="412.6" y2="499.5" stroke="#333" stroke-width="0.9" />
<text transform="translate(410.7,498.4) rotate(-90)" font-size="6.6" text-anchor="start" fill="#1c1c1c" stroke="#1c1c1c" stroke-width="0.22">200</text>
<text transform="translate(419.2,498.4) rotate(-90)" font-size="6.6" text-anchor="start" fill="#1c1c1c" stroke="#1c1c1c" stroke-width="0.22">220</text>
<line x1="531.6" y1="471" x2="531.6" y2="499.5" stroke="#333" stroke-width="0.9" />
<text transform="translate(529.7,498.4) rotate(-90)" font-size="6.6" text-anchor="start" fill="#1c1c1c" stroke="#1c1c1c" stroke-width="0.22">200</text>
<text transform="translate(538.2,498.4) rotate(-90)" font-size="6.6" text-anchor="start" fill="#1c1c1c" stroke="#1c1c1c" stroke-width="0.22">220</text>
<line x1="495.3" y1="275.5" x2="495.3" y2="360.7" stroke="#333" stroke-width="0.9" />
<line x1="490.3" y1="285.5" x2="500.3" y2="285.5" stroke="#3a3a3a" stroke-width="1.0" />
<line x1="493.7" y1="287.1" x2="496.9" y2="283.9" stroke="#111" stroke-width="1.3" />
<line x1="490.3" y1="325.7" x2="500.3" y2="325.7" stroke="#3a3a3a" stroke-width="1.0" />
<line x1="493.7" y1="327.3" x2="496.9" y2="324.1" stroke="#111" stroke-width="1.3" />
<line x1="490.3" y1="329.3" x2="500.3" y2="329.3" stroke="#3a3a3a" stroke-width="1.0" />
<line x1="493.7" y1="330.9" x2="496.9" y2="327.7" stroke="#111" stroke-width="1.3" />
<line x1="490.3" y1="357.3" x2="500.3" y2="357.3" stroke="#3a3a3a" stroke-width="1.0" />
<line x1="493.7" y1="358.9" x2="496.9" y2="355.7" stroke="#111" stroke-width="1.3" />
<text transform="translate(491.6,306.3) rotate(-90)" font-size="9" text-anchor="middle" fill="#151515" stroke="#151515" stroke-width="0.22">115</text>
<text transform="translate(491.6,327) rotate(-90)" font-size="9" text-anchor="middle" fill="#151515" stroke="#151515" stroke-width="0.22">10</text>
<text transform="translate(491.6,343.4) rotate(-90)" font-size="9" text-anchor="middle" fill="#151515" stroke="#151515" stroke-width="0.22">80</text>
<line x1="192" y1="398.1" x2="591.7" y2="398.1" stroke="#444" stroke-width="0.9" />
<line x1="202.4" y1="393.1" x2="202.4" y2="403.1" stroke="#3a3a3a" stroke-width="1.0" />
<line x1="200.8" y1="399.7" x2="204" y2="396.5" stroke="#111" stroke-width="1.3" />
<line x1="237.25" y1="393.1" x2="237.25" y2="403.1" stroke="#3a3a3a" stroke-width="1.0" />
<line x1="235.65" y1="399.7" x2="238.85" y2="396.5" stroke="#111" stroke-width="1.3" />
<line x1="265.25" y1="393.1" x2="265.25" y2="403.1" stroke="#3a3a3a" stroke-width="1.0" />
<line x1="263.65" y1="399.7" x2="266.85" y2="396.5" stroke="#111" stroke-width="1.3" />
<line x1="289.75" y1="393.1" x2="289.75" y2="403.1" stroke="#3a3a3a" stroke-width="1.0" />
<line x1="288.15" y1="399.7" x2="291.35" y2="396.5" stroke="#111" stroke-width="1.3" />
<line x1="321.25" y1="393.1" x2="321.25" y2="403.1" stroke="#3a3a3a" stroke-width="1.0" />
<line x1="319.65" y1="399.7" x2="322.85" y2="396.5" stroke="#111" stroke-width="1.3" />
<line x1="333.5" y1="393.1" x2="333.5" y2="403.1" stroke="#3a3a3a" stroke-width="1.0" />
<line x1="331.9" y1="399.7" x2="335.1" y2="396.5" stroke="#111" stroke-width="1.3" />
<line x1="337" y1="393.1" x2="337" y2="403.1" stroke="#3a3a3a" stroke-width="1.0" />
<line x1="335.4" y1="399.7" x2="338.6" y2="396.5" stroke="#111" stroke-width="1.3" />
<line x1="363.25" y1="393.1" x2="363.25" y2="403.1" stroke="#3a3a3a" stroke-width="1.0" />
<line x1="361.65" y1="399.7" x2="364.85" y2="396.5" stroke="#111" stroke-width="1.3" />
<line x1="394.75" y1="393.1" x2="394.75" y2="403.1" stroke="#3a3a3a" stroke-width="1.0" />
<line x1="393.15" y1="399.7" x2="396.35" y2="396.5" stroke="#111" stroke-width="1.3" />
<line x1="468.25" y1="393.1" x2="468.25" y2="403.1" stroke="#3a3a3a" stroke-width="1.0" />
<line x1="466.65" y1="399.7" x2="469.85" y2="396.5" stroke="#111" stroke-width="1.3" />
<line x1="477" y1="393.1" x2="477" y2="403.1" stroke="#3a3a3a" stroke-width="1.0" />
<line x1="475.4" y1="399.7" x2="478.6" y2="396.5" stroke="#111" stroke-width="1.3" />
<line x1="478.75" y1="393.1" x2="478.75" y2="403.1" stroke="#3a3a3a" stroke-width="1.0" />
<line x1="477.15" y1="399.7" x2="480.35" y2="396.5" stroke="#111" stroke-width="1.3" />
<line x1="510.25" y1="393.1" x2="510.25" y2="403.1" stroke="#3a3a3a" stroke-width="1.0" />
<line x1="508.65" y1="399.7" x2="511.85" y2="396.5" stroke="#111" stroke-width="1.3" />
<line x1="580.25" y1="393.1" x2="580.25" y2="403.1" stroke="#3a3a3a" stroke-width="1.0" />
<line x1="578.65" y1="399.7" x2="581.85" y2="396.5" stroke="#111" stroke-width="1.3" />
<text x="219.8" y="394.5" font-size="9" text-anchor="middle" fill="#151515" stroke="#151515" stroke-width="0.22" >100</text>
<text x="251.2" y="394.5" font-size="9" text-anchor="middle" fill="#151515" stroke="#151515" stroke-width="0.22" >80</text>
<text x="277.5" y="394.5" font-size="9" text-anchor="middle" fill="#151515" stroke="#151515" stroke-width="0.22" >70</text>
<text x="305.5" y="394.5" font-size="9" text-anchor="middle" fill="#151515" stroke="#151515" stroke-width="0.22" >90</text>
<text x="327.4" y="394.5" font-size="9" text-anchor="middle" fill="#151515" stroke="#151515" stroke-width="0.22" >35</text>
<text x="350.1" y="394.5" font-size="9" text-anchor="middle" fill="#151515" stroke="#151515" stroke-width="0.22" >75</text>
<text x="379" y="394.5" font-size="9" text-anchor="middle" fill="#151515" stroke="#151515" stroke-width="0.22" >90</text>
<text x="431.5" y="394.5" font-size="9" text-anchor="middle" fill="#151515" stroke="#151515" stroke-width="0.22" >210</text>
<text x="472.6" y="394.5" font-size="9" text-anchor="middle" fill="#151515" stroke="#151515" stroke-width="0.22" >25</text>
<text x="494.5" y="394.5" font-size="9" text-anchor="middle" fill="#151515" stroke="#151515" stroke-width="0.22" >90</text>
<text x="545.3" y="394.5" font-size="9" text-anchor="middle" fill="#151515" stroke="#151515" stroke-width="0.22" >200</text>
<path d="M336.2,398.1 L342.9,422.6 H359" fill="none" stroke="#333" stroke-width="0.8"/>
<text x="351.4" y="419.6" font-size="9" text-anchor="middle" fill="#151515" stroke="#151515" stroke-width="0.22" >10</text>
<path d="M478.7,398.1 L486,422.6 H497.3" fill="none" stroke="#333" stroke-width="0.8"/>
<text x="491" y="419.6" font-size="9" text-anchor="middle" fill="#151515" stroke="#151515" stroke-width="0.22" >5</text>
<line x1="146.2" y1="303.4" x2="639.5" y2="303.4" stroke="#d2d2d2" stroke-width="0.9" stroke-dasharray="1.2,16.3" stroke-dashoffset="7.5"/>
<line x1="146.2" y1="303.4" x2="639.5" y2="303.4" stroke="#2a2a2a" stroke-width="1" stroke-dasharray="9,8.5" stroke-dashoffset="3.2"/>
<line x1="146.2" y1="303.4" x2="169" y2="303.4" stroke="#2a2a2a" stroke-width="1" />
<text x="154.6" y="280.9" font-size="16.8" text-anchor="middle" fill="#111" stroke="#111" stroke-width="0.22" >A</text>
<path d="M154.6,285.7 L162.7,301.1 L146.5,301.1 Z" fill="#fff" stroke="#222" stroke-width="1"/>
<text x="623.8" y="280.9" font-size="16.8" text-anchor="middle" fill="#111" stroke="#111" stroke-width="0.22" >A</text>
<path d="M623.8,285.7 L631.9,301.1 L615.7,301.1 Z" fill="#fff" stroke="#222" stroke-width="1"/>
<text x="1189.3" y="15.3" font-size="19" text-anchor="end" fill="#111" stroke="#111" stroke-width="0.22" font-weight="bold" >TLOCRT&#160; KATA</text>
<text x="1189.3" y="38.6" font-size="19" text-anchor="end" fill="#111" stroke="#111" stroke-width="0.22" font-weight="bold" >M 1:100</text>
<circle cx="1092.7" cy="105.1" r="20.8" fill="none" stroke="#c23c3c" stroke-width="1.1"/>
<line x1="1063.5" y1="105.1" x2="1122" y2="105.1" stroke="#c23c3c" stroke-width="1.1" />
<line x1="1092.7" y1="63.5" x2="1092.7" y2="82" stroke="#c23c3c" stroke-width="1.1" />
<path d="M1092.7,166.9 L1081.0,86.0 C1079.0,80.5 1081.5,77.5 1086.0,78.5 C1089.0,79.3 1091.0,81.2 1092.7,82.4 C1094.4,81.2 1096.4,79.3 1099.4,78.5 C1103.9,77.5 1106.4,80.5 1104.4,86.0 Z" fill="#fff" stroke="#c23c3c" stroke-width="1.1" stroke-linejoin="round"/>
<text x="1092.7" y="99" font-size="12" text-anchor="middle" fill="#151515" stroke="#151515" stroke-width="0.22" >N</text>
<text x="851.1" y="271.1" font-size="9.6" fill="#1a1a1a" stroke="#1a1a1a" stroke-width="0.22" textLength="48.2" lengthAdjust="spacingAndGlyphs">1. TERASA</text>
<text x="963" y="271.1" font-size="9.6" fill="#1a1a1a" stroke="#1a1a1a" stroke-width="0.22" textLength="47.4" lengthAdjust="spacingAndGlyphs">kam. ploče</text>
<text x="909.8" y="282.9" font-size="9.6" fill="#1a1a1a" stroke="#1a1a1a" stroke-width="0.22" textLength="106.4" lengthAdjust="spacingAndGlyphs">(20.40 m² x koef. 0.25) =</text>
<text x="1024.2" y="282.9" font-size="9.6" fill="#1a1a1a" stroke="#1a1a1a" stroke-width="0.22" textLength="33.8" lengthAdjust="spacingAndGlyphs">5.10 m²</text>
<text x="851.1" y="294.5" font-size="9.6" fill="#1a1a1a" stroke="#1a1a1a" stroke-width="0.22" textLength="68.1" lengthAdjust="spacingAndGlyphs">2.&#160; KUPAONICA</text>
<text x="963" y="294.5" font-size="9.6" fill="#1a1a1a" stroke="#1a1a1a" stroke-width="0.22" textLength="46.3" lengthAdjust="spacingAndGlyphs">ker.pločice</text>
<text x="1024.7" y="294.5" font-size="9.6" fill="#1a1a1a" stroke="#1a1a1a" stroke-width="0.22" textLength="33.8" lengthAdjust="spacingAndGlyphs">4.41 m²</text>
<text x="851.1" y="308.4" font-size="9.6" fill="#1a1a1a" stroke="#1a1a1a" stroke-width="0.22" textLength="56.5" lengthAdjust="spacingAndGlyphs">3. STUBIŠTE</text>
<text x="963" y="308.4" font-size="9.6" fill="#1a1a1a" stroke="#1a1a1a" stroke-width="0.22" textLength="46.3" lengthAdjust="spacingAndGlyphs">ker.pločice</text>
<text x="1024.9" y="308.4" font-size="9.6" fill="#1a1a1a" stroke="#1a1a1a" stroke-width="0.22" textLength="33.6" lengthAdjust="spacingAndGlyphs">3.49 m²</text>
<text x="851.1" y="320" font-size="9.6" fill="#1a1a1a" stroke="#1a1a1a" stroke-width="0.22" textLength="42.7" lengthAdjust="spacingAndGlyphs">4.&#160; HODNIK</text>
<text x="963" y="320" font-size="9.6" fill="#1a1a1a" stroke="#1a1a1a" stroke-width="0.22" textLength="46.3" lengthAdjust="spacingAndGlyphs">ker.pločice</text>
<text x="1023" y="320" font-size="9.6" fill="#1a1a1a" stroke="#1a1a1a" stroke-width="0.22" textLength="33.3" lengthAdjust="spacingAndGlyphs">7.80 m²</text>
<text x="851.1" y="331.6" font-size="9.6" fill="#1a1a1a" stroke="#1a1a1a" stroke-width="0.22" textLength="66.2" lengthAdjust="spacingAndGlyphs">5. KUPAONICA</text>
<text x="963" y="331.6" font-size="9.6" fill="#1a1a1a" stroke="#1a1a1a" stroke-width="0.22" textLength="46.3" lengthAdjust="spacingAndGlyphs">ker.pločice</text>
<text x="1024.9" y="331.6" font-size="9.6" fill="#1a1a1a" stroke="#1a1a1a" stroke-width="0.22" textLength="33.6" lengthAdjust="spacingAndGlyphs">5.06 m²</text>
<text x="851.1" y="343.7" font-size="9.6" fill="#1a1a1a" stroke="#1a1a1a" stroke-width="0.22" textLength="36.6" lengthAdjust="spacingAndGlyphs">6. SOBA</text>
<text x="962.9" y="343.7" font-size="9.6" fill="#1a1a1a" stroke="#1a1a1a" stroke-width="0.22" textLength="27.7" lengthAdjust="spacingAndGlyphs">parket</text>
<text x="1018.9" y="343.7" font-size="9.6" fill="#1a1a1a" stroke="#1a1a1a" stroke-width="0.22" textLength="38.3" lengthAdjust="spacingAndGlyphs">12.22 m²</text>
<text x="851.1" y="355.7" font-size="9.6" fill="#1a1a1a" stroke="#1a1a1a" stroke-width="0.22" textLength="38.2" lengthAdjust="spacingAndGlyphs">7.&#160; SOBA</text>
<text x="962.9" y="355.7" font-size="9.6" fill="#1a1a1a" stroke="#1a1a1a" stroke-width="0.22" textLength="27.7" lengthAdjust="spacingAndGlyphs">parket</text>
<text x="1018.9" y="355.7" font-size="9.6" fill="#1a1a1a" stroke="#1a1a1a" stroke-width="0.22" textLength="38.3" lengthAdjust="spacingAndGlyphs">12.37 m²</text>
<text x="851.1" y="366.8" font-size="9.6" fill="#1a1a1a" stroke="#1a1a1a" stroke-width="0.22" textLength="38.2" lengthAdjust="spacingAndGlyphs">8.&#160; SOBA</text>
<text x="962.9" y="366.8" font-size="9.6" fill="#1a1a1a" stroke="#1a1a1a" stroke-width="0.22" textLength="27.7" lengthAdjust="spacingAndGlyphs">parket</text>
<text x="1018.9" y="366.8" font-size="9.6" fill="#1a1a1a" stroke="#1a1a1a" stroke-width="0.22" textLength="34.1" lengthAdjust="spacingAndGlyphs">9.73 m²</text>
<text x="851.1" y="378.9" font-size="9.6" fill="#1a1a1a" stroke="#1a1a1a" stroke-width="0.22" textLength="49.9" lengthAdjust="spacingAndGlyphs">9.&#160; TERASA</text>
<text x="962.9" y="378.9" font-size="9.6" fill="#1a1a1a" stroke="#1a1a1a" stroke-width="0.22" textLength="49" lengthAdjust="spacingAndGlyphs">ker. pločice</text>
<text x="908.7" y="390.6" font-size="9.6" fill="#1a1a1a" stroke="#1a1a1a" stroke-width="0.22" textLength="143.1" lengthAdjust="spacingAndGlyphs">(27.54 m² x koef. 0.25) = 6.89 m²</text>
<text x="1012.5" y="401.8" font-size="9.6" fill="#1a1a1a" stroke="#1a1a1a" stroke-width="0.22" textLength="39.3" lengthAdjust="spacingAndGlyphs">67.07 m²</text>
<line x1="851.1" y1="392.9" x2="1051.2" y2="392.9" stroke="#333" stroke-width="1.2" />
<text x="851.1" y="425.8" font-size="9.6" fill="#1a1a1a" stroke="#1a1a1a" stroke-width="0.22" font-weight="bold" textLength="105.2" lengthAdjust="spacingAndGlyphs">UKUPNO Pnetto KATA:</text>
<text x="1018.9" y="425.8" font-size="9.6" fill="#1a1a1a" stroke="#1a1a1a" stroke-width="0.22" font-weight="bold" textLength="40.2" lengthAdjust="spacingAndGlyphs">67.07 m²</text>
<text x="851.1" y="438" font-size="9.6" fill="#1a1a1a" stroke="#1a1a1a" stroke-width="0.22" font-weight="bold" textLength="97.3" lengthAdjust="spacingAndGlyphs">UKUPNO GBP KATA:</text>
<text x="1018.9" y="438" font-size="9.6" fill="#1a1a1a" stroke="#1a1a1a" stroke-width="0.22" font-weight="bold" textLength="40.2" lengthAdjust="spacingAndGlyphs">70.73 m²</text>
</svg>
</body></html>
